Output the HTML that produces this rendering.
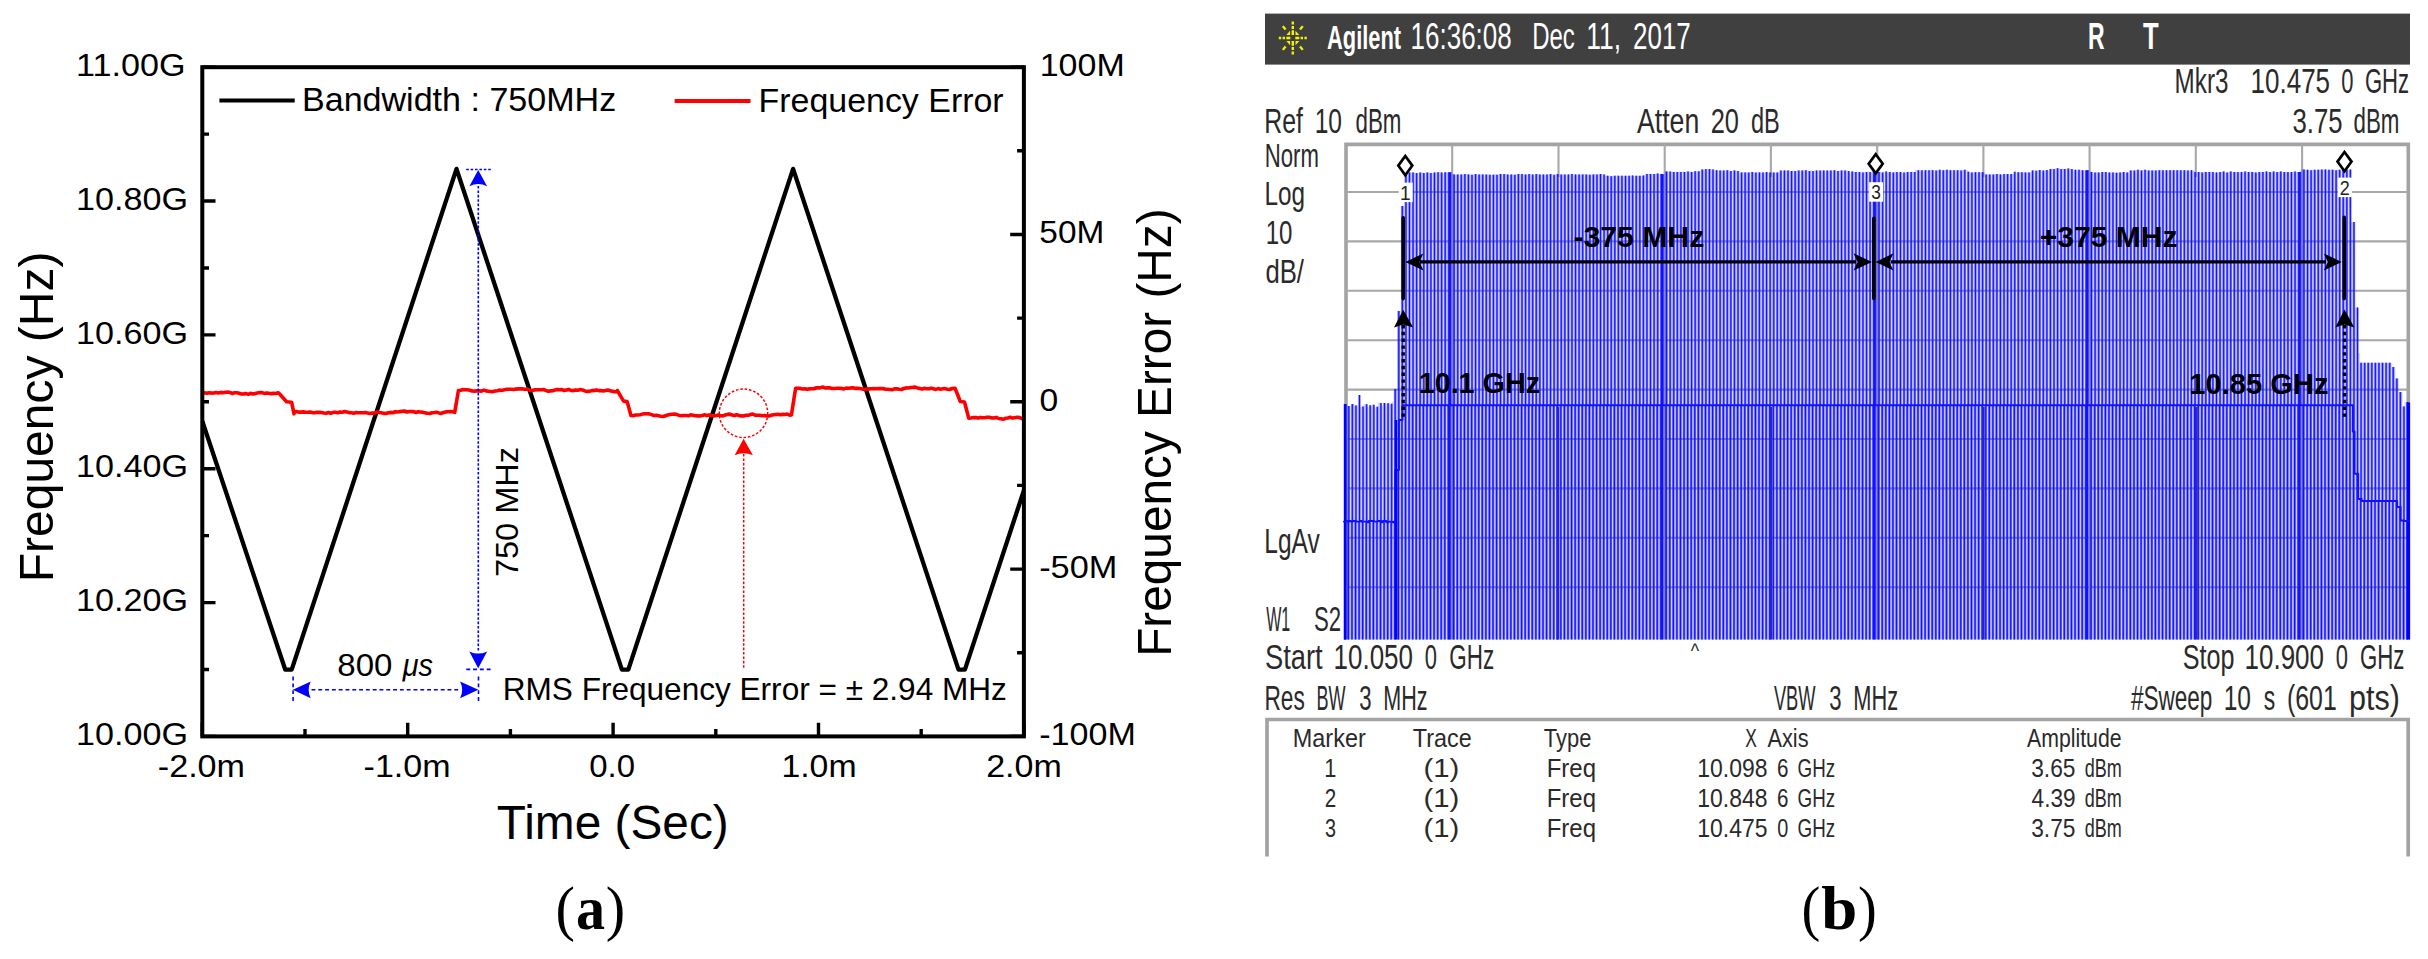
<!DOCTYPE html>
<html lang="en">
<head>
<meta charset="utf-8">
<title>Frequency chirp measurement (a) and spectrum analyzer capture (b)</title>
<style>
html,body{margin:0;padding:0;background:#fff;}
body{width:2428px;height:959px;overflow:hidden;}
svg{display:block;font-family:"Liberation Sans",sans-serif;}
</style>
</head>
<body>
<svg width="2428" height="959" viewBox="0 0 2428 959">
<rect width="2428" height="959" fill="#fff"/>
<g id="panel-a">
<clipPath id="ca"><rect x="202.3" y="67.2" width="821.6" height="669.2"/></clipPath>
<g clip-path="url(#ca)">
<polyline fill="none" stroke="#000" stroke-width="4.3" stroke-linejoin="round" points="202.3,421.1 285.3,669.7 291.7,669.7 456.5,168.9 621.9,669.7 628.3,669.7 793.1,168.9 958.5,669.7 964.9,669.7 1023.9,490.4"/>
<polyline fill="none" stroke="#ff0000" stroke-width="3.6" stroke-linejoin="round" points="202.3,393.2 204.6,392.8 206.9,393.3 209.2,392.7 211.5,393.1 213.8,393.0 216.1,392.5 218.4,392.9 220.7,392.4 223.0,392.7 225.3,392.3 227.6,392.1 229.9,392.5 232.2,393.4 234.5,392.8 236.8,392.7 239.1,393.2 241.4,394.0 243.7,393.9 246.0,393.6 248.3,394.3 250.6,393.3 252.9,393.9 255.2,393.4 257.5,392.9 259.8,392.5 262.1,392.6 264.4,393.4 266.7,392.9 269.0,393.3 271.3,393.6 273.6,393.4 275.9,393.5 278.2,392.8 279.2,393.5 286.6,401.7 291.6,402.2 294.0,413.8 294.0,411.7 296.3,411.5 298.6,412.1 300.9,412.1 303.2,411.9 305.5,412.2 307.8,412.2 310.1,412.0 312.4,412.6 314.7,412.8 317.0,412.3 319.3,412.4 321.6,412.5 323.9,413.0 326.2,413.2 328.5,412.5 330.8,413.3 333.1,412.3 335.4,412.2 337.7,412.7 340.0,412.0 342.3,412.2 344.6,411.5 346.9,412.1 349.2,412.6 351.5,412.7 353.8,413.2 356.1,412.6 358.4,412.8 360.7,412.8 363.0,412.8 365.3,412.6 367.6,413.0 369.9,413.5 372.2,413.0 374.5,413.1 376.8,412.1 379.1,412.5 381.4,412.7 383.7,413.4 386.0,413.5 388.3,412.8 390.6,412.4 392.9,412.7 395.2,411.8 397.5,412.0 399.8,411.6 402.1,411.3 404.4,411.0 406.7,412.0 409.0,411.5 411.3,411.5 413.6,411.6 415.9,412.5 418.2,411.8 420.5,412.0 422.8,412.2 425.1,412.9 427.4,413.2 429.7,413.5 432.0,412.7 434.3,412.5 436.6,412.2 438.9,412.9 441.2,413.4 443.5,412.5 445.8,411.9 448.1,411.7 450.4,411.5 452.7,411.8 454.7,412.4 458.4,390.8 458.4,390.6 460.7,390.2 463.0,389.5 465.3,389.8 467.6,389.8 469.9,390.2 472.2,391.0 474.5,391.1 476.8,390.9 479.1,390.9 481.4,391.1 483.7,390.1 486.0,390.9 488.3,391.2 490.6,391.5 492.9,391.6 495.2,391.0 497.5,390.7 499.8,390.0 502.1,390.4 504.4,389.7 506.7,389.3 509.0,389.3 511.3,389.2 513.6,389.5 515.9,389.1 518.2,388.9 520.5,388.9 522.8,388.9 525.1,389.3 527.4,389.0 529.7,390.2 532.0,390.5 534.3,389.9 536.6,389.7 538.9,389.8 541.2,389.8 543.5,389.5 545.8,390.4 548.1,391.2 550.4,390.9 552.7,390.7 555.0,390.0 557.3,389.5 559.6,389.7 561.9,389.6 564.2,390.5 566.5,389.9 568.8,389.4 571.1,390.5 573.4,390.6 575.7,390.0 578.0,390.2 580.3,389.6 582.6,390.0 584.9,390.9 587.2,391.4 589.5,391.3 591.8,390.6 594.1,390.4 596.4,389.9 598.7,390.6 601.0,390.6 603.3,391.0 605.6,390.5 607.9,390.1 610.2,390.7 612.5,391.4 614.8,391.6 617.1,391.7 617.3,390.5 623.6,401.1 627.1,401.6 630.9,415.3 630.9,415.5 633.2,415.7 635.5,415.0 637.8,415.0 640.1,414.8 642.4,414.1 644.7,413.7 647.0,413.8 649.3,413.9 651.6,414.6 653.9,415.5 656.2,415.2 658.5,415.8 660.8,416.3 663.1,416.5 665.4,415.7 667.7,415.0 670.0,414.6 672.3,414.2 674.6,414.1 676.9,414.6 679.2,415.4 681.5,415.8 683.8,415.5 686.1,415.5 688.4,415.8 690.7,414.8 693.0,415.2 695.3,415.8 697.6,415.9 699.9,416.0 702.2,415.6 704.5,414.8 706.8,415.4 709.1,415.0 711.4,415.5 713.7,416.0 716.0,415.5 718.3,415.1 720.6,415.8 722.9,415.9 725.2,415.0 727.5,414.4 729.8,414.1 732.1,415.1 734.4,415.5 736.7,414.8 739.0,415.4 741.3,416.0 743.6,415.9 745.9,415.3 748.2,415.3 750.5,414.6 752.8,414.0 755.1,415.1 757.4,415.3 759.7,415.2 762.0,415.8 764.3,415.4 766.6,415.9 768.9,416.0 771.2,415.2 773.5,414.7 775.8,414.5 778.1,414.3 780.4,414.7 782.7,414.4 785.0,414.5 787.3,414.1 789.6,415.1 791.4,415.0 795.6,388.2 795.6,388.2 797.9,388.2 800.2,388.4 802.5,389.0 804.8,388.7 807.1,389.2 809.4,388.9 811.7,388.8 814.0,388.7 816.3,387.8 818.6,387.9 820.9,387.6 823.2,387.1 825.5,388.1 827.8,387.7 830.1,387.9 832.4,388.5 834.7,388.5 837.0,388.2 839.3,388.3 841.6,388.4 843.9,388.9 846.2,388.1 848.5,388.3 850.8,387.9 853.1,387.8 855.4,388.4 857.7,388.4 860.0,388.5 862.3,388.9 864.6,389.4 866.9,388.9 869.2,388.9 871.5,388.7 873.8,388.6 876.1,388.8 878.4,388.6 880.7,388.6 883.0,388.5 885.3,389.2 887.6,389.2 889.9,389.5 892.2,389.8 894.5,388.9 896.8,388.8 899.1,389.3 901.4,389.5 903.7,388.5 906.0,387.9 908.3,388.0 910.6,387.5 912.9,387.4 915.2,387.1 917.5,387.9 919.8,388.5 922.1,389.1 924.4,388.3 926.7,388.7 929.0,388.8 931.3,388.1 933.6,388.8 935.9,389.4 938.2,388.6 940.5,389.2 942.8,388.8 945.1,388.6 947.4,389.3 949.7,389.5 952.0,388.5 954.3,388.4 955.1,388.4 960.3,401.5 964.5,402.0 968.7,418.0 968.7,418.2 971.0,418.0 973.3,417.6 975.6,417.5 977.9,418.1 980.2,417.4 982.5,417.8 984.8,417.8 987.1,417.2 989.4,417.3 991.7,417.9 994.0,418.0 996.3,417.4 998.6,418.5 1000.9,418.8 1003.2,419.3 1005.5,418.3 1007.8,417.9 1010.1,417.3 1012.4,418.1 1014.7,417.7 1017.0,417.3 1019.3,417.5 1021.6,418.4 1023.9,418.9 1026.0,418.2"/>
</g>
<rect x="202.3" y="67.2" width="821.6" height="669.2" fill="none" stroke="#000" stroke-width="4"/>
<path d="M202.3 67.2H215.5M202.3 134.1H209.0M202.3 201.0H215.5M202.3 268.0H209.0M202.3 334.9H215.5M202.3 401.8H209.0M202.3 468.7H215.5M202.3 535.6H209.0M202.3 602.6H215.5M202.3 669.5H209.0M202.3 736.4H215.5M1023.9 67.2H1010.2M1023.9 150.8H1017.1M1023.9 234.5H1010.2M1023.9 318.1H1017.1M1023.9 401.8H1010.2M1023.9 485.4H1017.1M1023.9 569.1H1010.2M1023.9 652.8H1017.1M1023.9 736.4H1010.2M202.3 736.4V722.7M305.0 736.4V728.9M407.7 736.4V722.7M510.4 736.4V728.9M613.1 736.4V722.7M715.8 736.4V728.9M818.5 736.4V722.7M921.2 736.4V728.9M1023.9 736.4V722.7" stroke="#000" stroke-width="3.4" fill="none"/>
<text transform="translate(76.00 76.30) scale(1.0675 1)" font-size="32.00">11.00G</text>
<text transform="translate(76.00 210.02) scale(1.0675 1)" font-size="32.00">10.80G</text>
<text transform="translate(76.00 343.74) scale(1.0675 1)" font-size="32.00">10.60G</text>
<text transform="translate(76.00 477.46) scale(1.0675 1)" font-size="32.00">10.40G</text>
<text transform="translate(76.00 611.18) scale(1.0675 1)" font-size="32.00">10.20G</text>
<text transform="translate(76.00 744.90) scale(1.0675 1)" font-size="32.00">10.00G</text>
<text transform="translate(1039.71 76.00) scale(1.0616 1)" font-size="32.00">100M</text>
<text transform="translate(1039.36 243.30) scale(1.0438 1)" font-size="32.00">50M</text>
<text transform="translate(1039.38 410.60) scale(1.0525 1)" font-size="32.00">0</text>
<text transform="translate(1039.18 577.90) scale(1.0717 1)" font-size="32.00">-50M</text>
<text transform="translate(1039.19 745.20) scale(1.0651 1)" font-size="32.00">-100M</text>
<text transform="translate(157.78 776.90) scale(1.0669 1)" font-size="32.00">-2.0m</text>
<text transform="translate(363.59 776.90) scale(1.0643 1)" font-size="32.00">-1.0m</text>
<text transform="translate(589.21 776.90) scale(1.0290 1)" font-size="32.00">0.0</text>
<text transform="translate(781.42 776.90) scale(1.0572 1)" font-size="32.00">1.0m</text>
<text transform="translate(986.19 776.90) scale(1.0635 1)" font-size="32.00">2.0m</text>
<text transform="translate(496.83 838.70) scale(0.9960 1)" font-size="48.00">Time (Sec)</text>
<text transform="translate(52.70 582.24) rotate(-90) scale(0.9896 1)" font-size="48.50">Frequency (Hz)</text>
<text transform="translate(1171.20 656.82) rotate(-90) scale(0.9847 1)" font-size="48.50">Frequency Error (Hz)</text>
<path d="M219.4 100.4H294.7" stroke="#000" stroke-width="4"/>
<path d="M674.6 100.9H750.5" stroke="#ff0000" stroke-width="4"/>
<text transform="translate(302.01 111.20) scale(1.0198 1)" font-size="33.40">Bandwidth : 750MHz</text>
<text transform="translate(758.52 111.50) scale(1.0164 1)" font-size="33.40">Frequency Error</text>
<g stroke="#0000ff" stroke-width="1.6" fill="none">
<path d="M466.2 169.5H491.7M478.3 186V652" stroke-dasharray="2.6 1.8"/>
<path d="M466.3 669.4H491.5M293.1 676.6V701.8M478.5 676.6V701.8M311.5 689.7H459.5" stroke-dasharray="3.9 2.9"/>
</g>
<g fill="#0000ff">
<path d="M478.2 170.0L487.1 186.2Q478.2 182.0 469.4 186.2Z"/>
<path d="M478.2 668.3L487.1 651.4Q478.2 655.8 469.3 651.4Z"/>
<path d="M292.9 689.8L310.7 681.4Q306.6 689.8 310.7 698.3Z"/>
<path d="M478.3 689.8L460.1 681.4Q464.2 689.8 460.1 698.3Z"/>
</g>
<text transform="translate(337.36 676.00) scale(1.0325 1)" font-size="32.00">800</text>
<text transform="translate(402.70 676.00) scale(0.8973 1)" font-size="32.00" font-style="italic">μs</text>
<text transform="translate(518.40 577.07) rotate(-90) scale(1.0288 1)" font-size="31.60">750 MHz</text>
<text transform="translate(502.71 700.40) scale(0.9810 1)" font-size="32.20">RMS Frequency Error = ± 2.94 MHz</text>
<circle cx="743.5" cy="413.3" r="24.2" fill="none" stroke="#ff0000" stroke-width="1.5" stroke-dasharray="2.6 1.8"/>
<path d="M743.7 454V669" stroke="#ff0000" stroke-width="1.5" stroke-dasharray="2.6 1.8" fill="none"/>
<path d="M743.6 438.8L752.9 455.2Q743.6 451.4 734.6 455.2Z" fill="#ff0000"/>
<text transform="translate(555.53 928.70) scale(0.9574 1)" font-size="61.00" font-family='"Liberation Serif", serif'>(</text>
<text transform="translate(575.93 928.70) scale(0.9525 1)" font-size="61.00" font-weight="bold" font-family='"Liberation Serif", serif'>a</text>
<text transform="translate(605.82 928.70) scale(0.9574 1)" font-size="61.00" font-family='"Liberation Serif", serif'>)</text>
</g>
<g id="panel-b">
<rect x="1265" y="13.6" width="1145" height="51" fill="#404040"/>
<path d="M1291.6 30.3H1294.0V34.9H1291.6ZM1291.6 26.0H1294.0V29.0H1291.6ZM1291.6 21.4H1294.0V24.4H1291.6ZM1286.3 36.8H1290.3V39.2H1286.3ZM1282.6 36.8H1285.0V39.2H1282.6ZM1278.8 36.8H1281.2V39.2H1278.8ZM1291.6 41.1H1294.0V45.7H1291.6ZM1291.6 47.0H1294.0V50.0H1291.6ZM1291.6 51.6H1294.0V54.6H1291.6ZM1295.3 36.8H1299.3V39.2H1295.3ZM1300.6 36.8H1303.0V39.2H1300.6ZM1304.4 36.8H1306.8V39.2H1304.4ZM1286.3 35.0L1290.1 35.0L1290.1 30.7ZM1284.7 30.2L1281.9 26.8L1283.7 25.4L1286.5 28.8ZM1286.3 41.0L1290.1 41.0L1290.1 45.3ZM1286.5 47.2L1283.7 50.6L1281.9 49.2L1284.7 45.8ZM1299.3 35.0L1295.5 35.0L1295.5 30.7ZM1299.1 28.8L1301.9 25.4L1303.7 26.8L1300.9 30.2ZM1299.3 41.0L1295.5 41.0L1295.5 45.3ZM1300.9 45.8L1303.7 49.2L1301.9 50.6L1299.1 47.2Z" fill="#f2f200"/>
<text transform="translate(1327.06 49.40) scale(0.6424 1)" font-size="34.00" font-weight="bold" fill="#fff">Agilent</text>
<text transform="translate(1410.62 49.40) scale(0.7116 1)" font-size="36.50" fill="#fff">16:36:08</text>
<text transform="translate(1532.24 49.40) scale(0.6563 1)" font-size="36.50" fill="#fff">Dec</text>
<text transform="translate(1586.18 49.40) scale(0.7251 1)" font-size="36.50" fill="#fff">11,</text>
<text transform="translate(1632.99 49.40) scale(0.7120 1)" font-size="36.50" fill="#fff">2017</text>
<text transform="translate(2088.06 49.40) scale(0.6216 1)" font-size="37.00" font-weight="bold" fill="#fff">R</text>
<text transform="translate(2142.91 49.40) scale(0.6930 1)" font-size="37.00" font-weight="bold" fill="#fff">T</text>
<text transform="translate(2174.61 92.70) scale(0.6924 1)" font-size="35.00" fill="#2a2a2a">Mkr3</text>
<text transform="translate(2250.52 92.70) scale(0.7433 1)" font-size="35.00" fill="#2a2a2a">10.475</text>
<text transform="translate(2341.14 92.70) scale(0.6276 1)" font-size="35.00" fill="#2a2a2a">0</text>
<text transform="translate(2364.89 92.70) scale(0.6316 1)" font-size="35.00" fill="#2a2a2a">GHz</text>
<text transform="translate(2292.52 133.40) scale(0.7349 1)" font-size="35.00" fill="#2a2a2a">3.75</text>
<text transform="translate(2353.56 133.40) scale(0.6379 1)" font-size="35.00" fill="#2a2a2a">dBm</text>
<text transform="translate(1264.26 133.40) scale(0.7106 1)" font-size="35.00" fill="#2a2a2a">Ref</text>
<text transform="translate(1314.63 133.40) scale(0.7021 1)" font-size="35.00" fill="#2a2a2a">10</text>
<text transform="translate(1355.56 133.40) scale(0.6379 1)" font-size="35.00" fill="#2a2a2a">dBm</text>
<text transform="translate(1636.95 133.40) scale(0.7621 1)" font-size="35.00" fill="#2a2a2a">Atten</text>
<text transform="translate(1710.72 133.40) scale(0.7262 1)" font-size="35.00" fill="#2a2a2a">20</text>
<text transform="translate(1751.01 133.40) scale(0.6735 1)" font-size="35.00" fill="#2a2a2a">dB</text>
<text transform="translate(1264.68 166.90) scale(0.6717 1)" font-size="33.00" fill="#2a2a2a">Norm</text>
<text transform="translate(1264.51 204.80) scale(0.7367 1)" font-size="33.00" fill="#2a2a2a">Log</text>
<text transform="translate(1265.67 244.00) scale(0.7294 1)" font-size="33.00" fill="#2a2a2a">10</text>
<text transform="translate(1265.42 282.60) scale(0.7789 1)" font-size="33.00" fill="#2a2a2a">dB/</text>
<text transform="translate(1264.28 553.10) scale(0.7020 1)" font-size="35.00" fill="#2a2a2a">LgAv</text>
<text transform="translate(1266.23 630.50) scale(0.4582 1)" font-size="35.00" fill="#2a2a2a">W1</text>
<text transform="translate(1313.99 630.50) scale(0.6335 1)" font-size="35.00" fill="#2a2a2a">S2</text>
<text transform="translate(1265.06 669.30) scale(0.7798 1)" font-size="35.00" fill="#2a2a2a">Start</text>
<text transform="translate(1333.52 669.30) scale(0.7426 1)" font-size="35.00" fill="#2a2a2a">10.050</text>
<text transform="translate(1424.64 669.30) scale(0.6276 1)" font-size="35.00" fill="#2a2a2a">0</text>
<text transform="translate(1449.37 669.30) scale(0.6421 1)" font-size="35.00" fill="#2a2a2a">GHz</text>
<text transform="translate(2182.86 669.40) scale(0.7180 1)" font-size="35.00" fill="#2a2a2a">Stop</text>
<text transform="translate(2244.52 669.40) scale(0.7426 1)" font-size="35.00" fill="#2a2a2a">10.900</text>
<text transform="translate(2335.64 669.40) scale(0.6276 1)" font-size="35.00" fill="#2a2a2a">0</text>
<text transform="translate(2359.88 669.40) scale(0.6346 1)" font-size="35.00" fill="#2a2a2a">GHz</text>
<text transform="translate(1264.44 710.10) scale(0.6488 1)" font-size="35.00" fill="#2a2a2a">Res</text>
<text transform="translate(1316.52 710.10) scale(0.5151 1)" font-size="35.00" fill="#2a2a2a">BW</text>
<text transform="translate(1359.16 710.10) scale(0.6327 1)" font-size="35.00" fill="#2a2a2a">3</text>
<text transform="translate(1383.23 710.10) scale(0.6165 1)" font-size="35.00" fill="#2a2a2a">MHz</text>
<text transform="translate(1773.92 710.10) scale(0.5223 1)" font-size="35.00" fill="#2a2a2a">VBW</text>
<text transform="translate(1829.16 710.10) scale(0.6327 1)" font-size="35.00" fill="#2a2a2a">3</text>
<text transform="translate(1853.21 710.10) scale(0.6239 1)" font-size="35.00" fill="#2a2a2a">MHz</text>
<text transform="translate(2130.90 710.10) scale(0.6447 1)" font-size="35.00" fill="#2a2a2a">#Sweep</text>
<text transform="translate(2223.63 710.10) scale(0.7021 1)" font-size="35.00" fill="#2a2a2a">10</text>
<text transform="translate(2263.86 710.10) scale(0.6553 1)" font-size="35.00" fill="#2a2a2a">s</text>
<text transform="translate(2286.96 710.10) scale(0.7103 1)" font-size="35.00" fill="#2a2a2a">(601</text>
<text transform="translate(2349.03 710.10) scale(0.8717 1)" font-size="35.00" fill="#2a2a2a">pts)</text>
<text transform="translate(1690.71 657.50) scale(0.8923 1)" font-size="20.00" fill="#2a2a2a">^</text>
<path d="M1346.0 639.5V144.4H2408.3V639.5" fill="none" stroke="#a3a3a3" stroke-width="3.6"/>
<path d="M1452.2 144.4V639.5M1346.0 192.0H2408.3M1558.5 144.4V177.0M1346.0 241.4H2408.3M1664.7 144.4V639.5M1346.0 290.8H2408.3M1770.9 144.4V177.0M1346.0 340.2H2408.3M1877.2 144.4V639.5M1346.0 389.6H2408.3M1983.4 144.4V177.0M1346.0 439.0H2408.3M2089.6 144.4V639.5M1346.0 488.4H2408.3M2195.8 144.4V177.0M1346.0 537.8H2408.3M2302.1 144.4V639.5M1346.0 587.2H2408.3" stroke="#a8a8a8" stroke-width="2.1" fill="none"/>
<polygon points="1344.4,639.5 1343.9,404.0 1345.7,404.0 1345.7,404.7 1347.5,404.7 1347.4,405.9 1349.2,405.9 1349.2,405.8 1351.0,405.8 1351.0,404.1 1352.8,404.1 1352.8,403.8 1354.6,403.8 1354.5,405.5 1356.3,405.5 1356.3,404.8 1358.1,404.8 1358.1,395.0 1359.9,395.0 1359.9,407.1 1361.7,407.1 1361.6,406.5 1363.4,406.5 1363.4,403.7 1365.2,403.7 1365.2,404.3 1367.0,404.3 1367.0,406.9 1368.8,406.9 1368.7,405.2 1370.5,405.2 1370.5,406.3 1372.3,406.3 1372.3,404.8 1374.1,404.8 1374.0,407.5 1375.8,407.5 1375.8,406.8 1377.6,406.8 1377.6,402.4 1379.4,402.4 1379.4,402.9 1381.2,402.9 1381.1,405.2 1382.9,405.2 1382.9,403.1 1384.7,403.1 1384.7,403.5 1386.5,403.5 1386.5,403.2 1388.3,403.2 1388.2,403.3 1390.0,403.3 1390.0,403.7 1391.8,403.7 1391.8,401.5 1393.6,401.5 1393.5,389.0 1395.3,389.0 1395.3,389.0 1397.1,389.0 1397.1,311.0 1398.9,311.0 1398.9,311.0 1400.7,311.0 1400.6,206.0 1402.4,206.0 1402.4,206.0 1404.2,206.0 1404.2,172.6 1406.0,172.6 1406.0,172.2 1407.8,172.2 1407.7,172.6 1409.5,172.6 1409.5,172.6 1411.3,172.6 1411.3,172.6 1413.1,172.6 1413.1,172.6 1414.9,172.6 1414.8,173.0 1416.6,173.0 1416.6,173.0 1418.4,173.0 1418.4,172.6 1420.2,172.6 1420.1,172.6 1421.9,172.6 1421.9,172.6 1423.7,172.6 1423.7,173.0 1425.5,173.0 1425.5,172.6 1427.3,172.6 1427.2,172.6 1429.0,172.6 1429.0,172.6 1430.8,172.6 1430.8,173.0 1432.6,173.0 1432.6,173.0 1434.4,173.0 1434.3,172.6 1436.1,172.6 1436.1,172.6 1437.9,172.6 1437.9,172.2 1439.7,172.2 1439.7,172.2 1441.5,172.2 1441.4,172.6 1443.2,172.6 1443.2,173.0 1445.0,173.0 1445.0,172.2 1446.8,172.2 1446.7,172.6 1448.5,172.6 1448.5,172.2 1450.3,172.2 1450.3,172.6 1452.1,172.6 1452.1,174.0 1453.9,174.0 1453.8,174.4 1455.6,174.4 1455.6,174.4 1457.4,174.4 1457.4,174.4 1459.2,174.4 1459.2,174.4 1461.0,174.4 1460.9,174.4 1462.7,174.4 1462.7,174.4 1464.5,174.4 1464.5,174.0 1466.3,174.0 1466.2,174.0 1468.0,174.0 1468.0,174.4 1469.8,174.4 1469.8,174.4 1471.6,174.4 1471.6,174.8 1473.4,174.8 1473.3,174.4 1475.1,174.4 1475.1,174.0 1476.9,174.0 1476.9,174.4 1478.7,174.4 1478.7,174.4 1480.5,174.4 1480.4,174.4 1482.2,174.4 1482.2,174.4 1484.0,174.4 1484.0,174.4 1485.8,174.4 1485.8,174.4 1487.6,174.4 1487.5,174.4 1489.3,174.4 1489.3,174.8 1491.1,174.8 1491.1,174.8 1492.9,174.8 1492.8,174.8 1494.6,174.8 1494.6,174.0 1496.4,174.0 1496.4,174.8 1498.2,174.8 1498.2,174.0 1500.0,174.0 1499.9,174.0 1501.7,174.0 1501.7,174.4 1503.5,174.4 1503.5,174.0 1505.3,174.0 1505.3,174.0 1507.1,174.0 1507.0,174.4 1508.8,174.4 1508.8,174.8 1510.6,174.8 1510.6,174.4 1512.4,174.4 1512.4,174.4 1514.2,174.4 1514.1,174.8 1515.9,174.8 1515.9,174.4 1517.7,174.4 1517.7,174.0 1519.5,174.0 1519.4,174.4 1521.2,174.4 1521.2,174.0 1523.0,174.0 1523.0,174.4 1524.8,174.4 1524.8,174.4 1526.6,174.4 1526.5,174.8 1528.3,174.8 1528.3,174.0 1530.1,174.0 1530.1,174.4 1531.9,174.4 1531.9,174.4 1533.7,174.4 1533.6,174.8 1535.4,174.8 1535.4,174.0 1537.2,174.0 1537.2,174.0 1539.0,174.0 1538.9,174.4 1540.7,174.4 1540.7,174.4 1542.5,174.4 1542.5,174.4 1544.3,174.4 1544.3,174.8 1546.1,174.8 1546.0,174.4 1547.8,174.4 1547.8,174.4 1549.6,174.4 1549.6,174.0 1551.4,174.0 1551.4,174.4 1553.2,174.4 1553.1,174.8 1554.9,174.8 1554.9,174.4 1556.7,174.4 1556.7,174.0 1558.5,174.0 1558.5,174.4 1560.3,174.4 1560.2,174.4 1562.0,174.4 1562.0,174.4 1563.8,174.4 1563.8,174.4 1565.6,174.4 1565.5,174.8 1567.3,174.8 1567.3,174.4 1569.1,174.4 1569.1,174.0 1570.9,174.0 1570.9,174.0 1572.7,174.0 1572.6,174.4 1574.4,174.4 1574.4,174.4 1576.2,174.4 1576.2,174.4 1578.0,174.4 1578.0,174.4 1579.8,174.4 1579.7,174.4 1581.5,174.4 1581.5,174.4 1583.3,174.4 1583.3,174.0 1585.1,174.0 1585.1,174.4 1586.9,174.4 1586.8,174.4 1588.6,174.4 1588.6,174.8 1590.4,174.8 1590.4,174.4 1592.2,174.4 1592.1,174.4 1593.9,174.4 1593.9,174.0 1595.7,174.0 1595.7,174.4 1597.5,174.4 1597.5,174.4 1599.3,174.4 1599.2,174.0 1601.0,174.0 1601.0,174.4 1602.8,174.4 1602.8,174.4 1604.6,174.4 1604.6,175.8 1606.4,175.8 1606.3,175.8 1608.1,175.8 1608.1,175.8 1609.9,175.8 1609.9,176.2 1611.7,176.2 1611.6,175.8 1613.4,175.8 1613.4,175.8 1615.2,175.8 1615.2,175.4 1617.0,175.4 1617.0,175.8 1618.8,175.8 1618.7,175.8 1620.5,175.8 1620.5,175.8 1622.3,175.8 1622.3,176.2 1624.1,176.2 1624.1,175.8 1625.9,175.8 1625.8,175.8 1627.6,175.8 1627.6,175.8 1629.4,175.8 1629.4,175.8 1631.2,175.8 1631.2,175.4 1633.0,175.4 1632.9,176.2 1634.7,176.2 1634.7,175.8 1636.5,175.8 1636.5,175.8 1638.3,175.8 1638.2,175.8 1640.0,175.8 1640.0,175.8 1641.8,175.8 1641.8,175.4 1643.6,175.4 1643.6,175.8 1645.4,175.8 1645.3,174.0 1647.1,174.0 1647.1,173.6 1648.9,173.6 1648.9,174.0 1650.7,174.0 1650.7,174.0 1652.5,174.0 1652.4,174.0 1654.2,174.0 1654.2,174.0 1656.0,174.0 1656.0,173.6 1657.8,173.6 1657.8,174.0 1659.6,174.0 1659.5,173.6 1661.3,173.6 1661.3,174.0 1663.1,174.0 1663.1,174.4 1664.9,174.4 1664.8,171.6 1666.6,171.6 1666.6,171.2 1668.4,171.2 1668.4,171.6 1670.2,171.6 1670.2,172.0 1672.0,172.0 1671.9,171.6 1673.7,171.6 1673.7,172.0 1675.5,172.0 1675.5,171.6 1677.3,171.6 1677.3,172.0 1679.1,172.0 1679.0,171.2 1680.8,171.2 1680.8,172.0 1682.6,172.0 1682.6,171.6 1684.4,171.6 1684.3,172.0 1686.1,172.0 1686.1,171.6 1687.9,171.6 1687.9,171.6 1689.7,171.6 1689.7,171.6 1691.5,171.6 1691.4,172.0 1693.2,172.0 1693.2,171.2 1695.0,171.2 1695.0,171.2 1696.8,171.2 1696.8,172.0 1698.6,172.0 1698.5,171.2 1700.3,171.2 1700.3,169.4 1702.1,169.4 1702.1,169.4 1703.9,169.4 1703.9,169.8 1705.7,169.8 1705.6,169.0 1707.4,169.0 1707.4,169.4 1709.2,169.4 1709.2,169.0 1711.0,169.0 1710.9,169.4 1712.7,169.4 1712.7,169.4 1714.5,169.4 1714.5,170.6 1716.3,170.6 1716.3,170.2 1718.1,170.2 1718.0,170.6 1719.8,170.6 1719.8,170.6 1721.6,170.6 1721.6,170.6 1723.4,170.6 1723.4,170.6 1725.2,170.6 1725.1,170.6 1726.9,170.6 1726.9,170.2 1728.7,170.2 1728.7,170.6 1730.5,170.6 1730.5,171.0 1732.3,171.0 1732.2,170.2 1734.0,170.2 1734.0,170.6 1735.8,170.6 1735.8,170.6 1737.6,170.6 1737.5,171.0 1739.3,171.0 1739.3,172.4 1741.1,172.4 1741.1,172.4 1742.9,172.4 1742.9,172.0 1744.7,172.0 1744.6,172.4 1746.4,172.4 1746.4,172.4 1748.2,172.4 1748.2,172.4 1750.0,172.4 1750.0,172.0 1751.8,172.0 1751.7,172.0 1753.5,172.0 1753.5,172.8 1755.3,172.8 1755.3,172.4 1757.1,172.4 1757.0,172.0 1758.8,172.0 1758.8,172.4 1760.6,172.4 1760.6,172.4 1762.4,172.4 1762.4,172.4 1764.2,172.4 1764.1,172.4 1765.9,172.4 1765.9,172.0 1767.7,172.0 1767.7,172.8 1769.5,172.8 1769.5,172.4 1771.3,172.4 1771.2,172.4 1773.0,172.4 1773.0,172.4 1774.8,172.4 1774.8,172.4 1776.6,172.4 1776.6,172.4 1778.4,172.4 1778.3,172.0 1780.1,172.0 1780.1,170.6 1781.9,170.6 1781.9,170.6 1783.7,170.6 1783.6,170.6 1785.4,170.6 1785.4,170.6 1787.2,170.6 1787.2,170.6 1789.0,170.6 1789.0,170.6 1790.8,170.6 1790.7,171.0 1792.5,171.0 1792.5,170.2 1794.3,170.2 1794.3,171.0 1796.1,171.0 1796.1,170.6 1797.9,170.6 1797.8,170.6 1799.6,170.6 1799.6,170.6 1801.4,170.6 1801.4,170.6 1803.2,170.6 1803.2,170.2 1805.0,170.2 1804.9,170.2 1806.7,170.2 1806.7,170.2 1808.5,170.2 1808.5,171.0 1810.3,171.0 1810.2,170.6 1812.0,170.6 1812.0,171.0 1813.8,171.0 1813.8,170.6 1815.6,170.6 1815.6,170.6 1817.4,170.6 1817.3,170.6 1819.1,170.6 1819.1,170.6 1820.9,170.6 1820.9,170.6 1822.7,170.6 1822.7,170.6 1824.5,170.6 1824.4,170.6 1826.2,170.6 1826.2,170.6 1828.0,170.6 1828.0,171.0 1829.8,171.0 1829.7,170.6 1831.5,170.6 1831.5,170.6 1833.3,170.6 1833.3,170.2 1835.1,170.2 1835.1,170.2 1836.9,170.2 1836.8,171.0 1838.6,171.0 1838.6,170.6 1840.4,170.6 1840.4,170.6 1842.2,170.6 1842.2,170.6 1844.0,170.6 1843.9,170.6 1845.7,170.6 1845.7,170.6 1847.5,170.6 1847.5,171.0 1849.3,171.0 1849.3,172.4 1851.1,172.4 1851.0,171.6 1852.8,171.6 1852.8,172.0 1854.6,172.0 1854.6,172.0 1856.4,172.0 1856.3,172.0 1858.1,172.0 1858.1,172.0 1859.9,172.0 1859.9,172.0 1861.7,172.0 1861.7,172.4 1863.5,172.4 1863.4,172.0 1865.2,172.0 1865.2,172.0 1867.0,172.0 1867.0,171.6 1868.8,171.6 1868.8,172.0 1870.6,172.0 1870.5,172.4 1872.3,172.4 1872.3,172.0 1874.1,172.0 1874.1,171.6 1875.9,171.6 1875.8,172.0 1877.7,172.0 1877.6,172.0 1879.4,172.0 1879.4,172.0 1881.2,172.0 1881.2,172.4 1883.0,172.4 1882.9,171.6 1884.7,171.6 1884.7,171.6 1886.5,171.6 1886.5,172.4 1888.3,172.4 1888.3,172.0 1890.1,172.0 1890.0,171.6 1891.8,171.6 1891.8,172.4 1893.6,172.4 1893.6,172.0 1895.4,172.0 1895.4,172.0 1897.2,172.0 1897.1,172.4 1898.9,172.4 1898.9,172.0 1900.7,172.0 1900.7,172.4 1902.5,172.4 1902.4,172.4 1904.2,172.4 1904.2,172.4 1906.0,172.4 1906.0,172.0 1907.8,172.0 1907.8,172.0 1909.6,172.0 1909.5,172.0 1911.3,172.0 1911.3,171.6 1913.1,171.6 1913.1,172.0 1914.9,172.0 1914.9,169.8 1916.7,169.8 1916.6,170.2 1918.4,170.2 1918.4,170.6 1920.2,170.6 1920.2,170.2 1922.0,170.2 1922.0,170.6 1923.8,170.6 1923.7,170.2 1925.5,170.2 1925.5,170.2 1927.3,170.2 1927.3,170.2 1929.1,170.2 1929.0,170.2 1930.8,170.2 1930.8,169.8 1932.6,169.8 1932.6,170.2 1934.4,170.2 1934.4,170.2 1936.2,170.2 1936.1,170.6 1937.9,170.6 1937.9,170.2 1939.7,170.2 1939.7,169.8 1941.5,169.8 1941.5,170.6 1943.3,170.6 1943.2,170.2 1945.0,170.2 1945.0,170.2 1946.8,170.2 1946.8,169.8 1948.6,169.8 1948.5,169.8 1950.3,169.8 1950.3,170.2 1952.1,170.2 1952.1,169.8 1953.9,169.8 1953.9,170.2 1955.7,170.2 1955.6,170.6 1957.4,170.6 1957.4,170.2 1959.2,170.2 1959.2,170.2 1961.0,170.2 1961.0,170.6 1962.8,170.6 1962.7,170.2 1964.5,170.2 1964.5,169.8 1966.3,169.8 1966.3,170.2 1968.1,170.2 1968.1,171.8 1969.9,171.8 1969.8,172.2 1971.6,172.2 1971.6,172.6 1973.4,172.6 1973.4,172.2 1975.2,172.2 1975.1,172.2 1976.9,172.2 1976.9,172.2 1978.7,172.2 1978.7,172.2 1980.5,172.2 1980.5,172.2 1982.3,172.2 1982.2,172.2 1984.0,172.2 1984.0,172.6 1985.8,172.6 1985.8,174.4 1987.6,174.4 1987.6,174.0 1989.4,174.0 1989.3,174.4 1991.1,174.4 1991.1,174.4 1992.9,174.4 1992.9,174.4 1994.7,174.4 1994.7,174.0 1996.5,174.0 1996.4,174.0 1998.2,174.0 1998.2,174.0 2000.0,174.0 2000.0,174.4 2001.8,174.4 2001.7,174.4 2003.5,174.4 2003.5,174.0 2005.3,174.0 2005.3,174.4 2007.1,174.4 2007.1,174.0 2008.9,174.0 2008.8,174.4 2010.6,174.4 2010.6,174.0 2012.4,174.0 2012.4,174.4 2014.2,174.4 2014.2,171.8 2016.0,171.8 2015.9,172.2 2017.7,172.2 2017.7,172.2 2019.5,172.2 2019.5,172.2 2021.3,172.2 2021.2,172.2 2023.0,172.2 2023.0,172.2 2024.8,172.2 2024.8,172.6 2026.6,172.6 2026.6,171.8 2028.4,171.8 2028.3,172.6 2030.1,172.6 2030.1,172.2 2031.9,172.2 2031.9,170.4 2033.7,170.4 2033.7,170.0 2035.5,170.0 2035.4,170.8 2037.2,170.8 2037.2,170.4 2039.0,170.4 2039.0,170.0 2040.8,170.0 2040.8,170.8 2042.6,170.8 2042.5,170.4 2044.3,170.4 2044.3,170.8 2046.1,170.8 2046.1,170.0 2047.9,170.0 2047.8,170.4 2049.6,170.4 2049.6,169.0 2051.4,169.0 2051.4,168.6 2053.2,168.6 2053.2,169.0 2055.0,169.0 2054.9,168.2 2056.7,168.2 2056.7,168.2 2058.5,168.2 2058.5,168.2 2060.3,168.2 2060.3,169.0 2062.1,169.0 2062.0,168.6 2063.8,168.6 2063.8,169.0 2065.6,169.0 2065.6,168.6 2067.4,168.6 2067.4,168.6 2069.2,168.6 2069.1,168.6 2070.9,168.6 2070.9,169.0 2072.7,169.0 2072.7,170.6 2074.5,170.6 2074.4,169.8 2076.2,169.8 2076.2,170.6 2078.0,170.6 2078.0,169.8 2079.8,169.8 2079.8,170.2 2081.6,170.2 2081.5,170.2 2083.3,170.2 2083.3,170.2 2085.1,170.2 2085.1,170.2 2086.9,170.2 2086.9,170.2 2088.7,170.2 2088.6,169.8 2090.4,169.8 2090.4,172.0 2092.2,172.0 2092.2,172.4 2094.0,172.4 2093.9,172.4 2095.7,172.4 2095.7,172.0 2097.5,172.0 2097.5,172.4 2099.3,172.4 2099.3,172.8 2101.1,172.8 2101.0,172.0 2102.8,172.0 2102.8,172.0 2104.6,172.0 2104.6,172.0 2106.4,172.0 2106.4,172.4 2108.2,172.4 2108.1,172.4 2109.9,172.4 2109.9,172.4 2111.7,172.4 2111.7,172.4 2113.5,172.4 2113.5,172.4 2115.3,172.4 2115.2,172.8 2117.0,172.8 2117.0,172.8 2118.8,172.8 2118.8,172.4 2120.6,172.4 2120.5,172.4 2122.3,172.4 2122.3,172.0 2124.1,172.0 2124.1,172.4 2125.9,172.4 2125.9,172.4 2127.7,172.4 2127.6,172.4 2129.4,172.4 2129.4,170.6 2131.2,170.6 2131.2,170.2 2133.0,170.2 2133.0,170.6 2134.8,170.6 2134.7,170.6 2136.5,170.6 2136.5,169.8 2138.3,169.8 2138.3,170.2 2140.1,170.2 2140.1,170.6 2141.9,170.6 2141.8,169.8 2143.6,169.8 2143.6,169.8 2145.4,169.8 2145.4,170.2 2147.2,170.2 2147.1,170.6 2148.9,170.6 2148.9,170.2 2150.7,170.2 2150.7,170.6 2152.5,170.6 2152.5,170.2 2154.3,170.2 2154.2,170.6 2156.0,170.6 2156.0,170.2 2157.8,170.2 2157.8,170.2 2159.6,170.2 2159.6,170.2 2161.4,170.2 2161.3,170.2 2163.1,170.2 2163.1,170.2 2164.9,170.2 2164.9,170.2 2166.7,170.2 2166.6,170.2 2168.4,170.2 2168.4,170.2 2170.2,170.2 2170.2,170.2 2172.0,170.2 2172.0,170.2 2173.8,170.2 2173.7,169.8 2175.5,169.8 2175.5,170.2 2177.3,170.2 2177.3,170.2 2179.1,170.2 2179.1,170.2 2180.9,170.2 2180.8,170.2 2182.6,170.2 2182.6,170.2 2184.4,170.2 2184.4,170.2 2186.2,170.2 2186.2,170.6 2188.0,170.6 2187.9,170.2 2189.7,170.2 2189.7,170.2 2191.5,170.2 2191.5,170.2 2193.3,170.2 2193.2,170.2 2195.0,170.2 2195.0,172.0 2196.8,172.0 2196.8,172.0 2198.6,172.0 2198.6,172.0 2200.4,172.0 2200.3,172.0 2202.1,172.0 2202.1,172.4 2203.9,172.4 2203.9,171.6 2205.7,171.6 2205.7,172.0 2207.5,172.0 2207.4,172.0 2209.2,172.0 2209.2,172.0 2211.0,172.0 2211.0,172.0 2212.8,172.0 2212.8,172.0 2214.6,172.0 2214.5,172.4 2216.3,172.4 2216.3,172.4 2218.1,172.4 2218.1,172.4 2219.9,172.4 2219.8,172.0 2221.6,172.0 2221.6,172.0 2223.4,172.0 2223.4,171.6 2225.2,171.6 2225.2,172.4 2227.0,172.4 2226.9,172.4 2228.7,172.4 2228.7,172.0 2230.5,172.0 2230.5,171.6 2232.3,171.6 2232.3,172.0 2234.1,172.0 2234.0,172.0 2235.8,172.0 2235.8,172.0 2237.6,172.0 2237.6,172.0 2239.4,172.0 2239.3,172.4 2241.1,172.4 2241.1,172.0 2242.9,172.0 2242.9,172.4 2244.7,172.4 2244.7,171.6 2246.5,171.6 2246.4,172.0 2248.2,172.0 2248.2,172.0 2250.0,172.0 2250.0,171.6 2251.8,171.6 2251.8,172.0 2253.6,172.0 2253.5,172.0 2255.3,172.0 2255.3,172.4 2257.1,172.4 2257.1,172.0 2258.9,172.0 2258.9,172.0 2260.7,172.0 2260.6,172.0 2262.4,172.0 2262.4,172.0 2264.2,172.0 2264.2,171.6 2266.0,171.6 2265.9,171.6 2267.7,171.6 2267.7,171.6 2269.5,171.6 2269.5,172.0 2271.3,172.0 2271.3,172.4 2273.1,172.4 2273.0,171.6 2274.8,171.6 2274.8,172.0 2276.6,172.0 2276.6,172.0 2278.4,172.0 2278.4,172.0 2280.2,172.0 2280.1,171.6 2281.9,171.6 2281.9,172.0 2283.7,172.0 2283.7,172.0 2285.5,172.0 2285.5,172.0 2287.3,172.0 2287.2,172.0 2289.0,172.0 2289.0,172.4 2290.8,172.4 2290.8,172.0 2292.6,172.0 2292.5,172.0 2294.3,172.0 2294.3,171.6 2296.1,171.6 2296.1,172.0 2297.9,172.0 2297.9,172.0 2299.7,172.0 2299.6,169.4 2301.4,169.4 2301.4,170.2 2303.2,170.2 2303.2,169.4 2305.0,169.4 2305.0,169.8 2306.8,169.8 2306.7,169.8 2308.5,169.8 2308.5,170.2 2310.3,170.2 2310.3,170.2 2312.1,170.2 2312.0,169.8 2313.8,169.8 2313.8,169.8 2315.6,169.8 2315.6,169.8 2317.4,169.8 2317.4,169.8 2319.2,169.8 2319.1,169.8 2320.9,169.8 2320.9,169.4 2322.7,169.4 2322.7,169.4 2324.5,169.4 2324.5,169.4 2326.3,169.4 2326.2,170.2 2328.0,170.2 2328.0,169.8 2329.8,169.8 2329.8,169.8 2331.6,169.8 2331.6,169.8 2333.4,169.8 2333.3,169.8 2335.1,169.8 2335.1,170.2 2336.9,170.2 2336.9,169.8 2338.7,169.8 2338.6,169.8 2340.4,169.8 2340.4,169.8 2342.2,169.8 2342.2,170.2 2344.0,170.2 2344.0,169.4 2345.8,169.4 2345.7,169.8 2347.5,169.8 2347.5,169.8 2349.3,169.8 2349.3,169.4 2351.1,169.4 2351.1,222.0 2352.9,222.0 2352.8,222.0 2354.6,222.0 2354.6,307.5 2356.4,307.5 2356.4,307.5 2358.2,307.5 2358.2,353.0 2360.0,353.0 2359.9,362.8 2361.7,362.8 2361.7,362.8 2363.5,362.8 2363.5,362.8 2365.3,362.8 2365.2,362.8 2367.0,362.8 2367.0,362.8 2368.8,362.8 2368.8,362.8 2370.6,362.8 2370.6,362.8 2372.4,362.8 2372.3,362.8 2374.1,362.8 2374.1,362.8 2375.9,362.8 2375.9,362.8 2377.7,362.8 2377.7,362.8 2379.5,362.8 2379.4,362.8 2381.2,362.8 2381.2,362.8 2383.0,362.8 2383.0,362.8 2384.8,362.8 2384.7,362.8 2386.5,362.8 2386.5,362.8 2388.3,362.8 2388.3,362.8 2390.1,362.8 2390.1,362.8 2391.9,362.8 2391.8,367.0 2393.6,367.0 2393.6,367.0 2395.4,367.0 2395.4,378.5 2397.2,378.5 2397.2,378.5 2399.0,378.5 2398.9,392.0 2400.7,392.0 2400.7,392.0 2402.5,392.0 2402.5,406.5 2404.3,406.5 2404.3,402.0 2406.1,402.0 2406.0,402.0 2407.8,402.0 2407.8,402.0 2409.6,402.0 2409.5,639.5" fill="#0000ff" fill-opacity="0.14"/>
<path d="M1344.01 404.0H1346.44V521.6H1344.01ZM1347.59 405.9H1350.01V521.6H1347.59ZM1351.16 404.1H1353.58V521.6H1351.16ZM1354.73 405.5H1357.15V521.0H1354.73ZM1358.30 395.0H1360.72V521.6H1358.30ZM1361.87 406.5H1364.29V521.6H1361.87ZM1365.44 404.3H1367.86V521.6H1365.44ZM1369.01 405.2H1371.43V521.0H1369.01ZM1372.58 404.8H1375.00V521.0H1372.58ZM1376.15 406.8H1378.57V521.6H1376.15ZM1379.72 402.9H1382.14V521.0H1379.72ZM1383.29 403.1H1385.71V521.0H1383.29ZM1386.86 403.2H1389.28V522.4H1386.86ZM1390.43 403.7H1392.85V521.6H1390.43ZM1394.00 389.0H1396.42V521.6H1394.00ZM1397.57 311.0H1399.99V470.0H1397.57ZM1401.14 206.0H1403.56V420.0H1401.14ZM1404.71 172.6H1407.13V405.3H1404.71ZM1408.28 172.6H1410.70V405.3H1408.28ZM1411.85 172.6H1414.27V405.3H1411.85ZM1415.42 173.0H1417.84V405.3H1415.42ZM1418.99 172.6H1421.41V405.3H1418.99ZM1422.56 173.0H1424.98V405.3H1422.56ZM1426.13 172.6H1428.55V405.3H1426.13ZM1429.70 173.0H1432.12V405.3H1429.70ZM1433.27 172.6H1435.69V405.3H1433.27ZM1436.84 172.2H1439.26V405.3H1436.84ZM1440.41 172.6H1442.83V405.3H1440.41ZM1443.98 172.2H1446.40V405.3H1443.98ZM1447.56 172.2H1451.65V405.3H1447.56ZM1452.81 174.4H1455.36V405.3H1452.81ZM1456.51 174.4H1458.93V405.3H1456.51ZM1460.08 174.4H1462.50V405.3H1460.08ZM1463.65 174.0H1466.07V405.3H1463.65ZM1467.22 174.4H1469.64V405.3H1467.22ZM1470.79 174.8H1473.21V405.3H1470.79ZM1474.36 174.0H1476.78V405.3H1474.36ZM1477.93 174.4H1480.35V405.3H1477.93ZM1481.50 174.4H1483.92V405.3H1481.50ZM1485.07 174.4H1487.49V405.3H1485.07ZM1488.64 174.8H1491.06V405.3H1488.64ZM1492.21 174.8H1494.63V405.3H1492.21ZM1495.78 174.8H1498.20V405.3H1495.78ZM1499.35 174.0H1501.77V405.3H1499.35ZM1502.92 174.0H1505.34V405.3H1502.92ZM1506.49 174.4H1508.91V405.3H1506.49ZM1510.06 174.4H1512.48V405.3H1510.06ZM1513.63 174.8H1516.05V405.3H1513.63ZM1517.20 174.0H1519.62V405.3H1517.20ZM1520.77 174.0H1523.19V405.3H1520.77ZM1524.34 174.4H1526.76V405.3H1524.34ZM1527.91 174.0H1530.33V405.3H1527.91ZM1531.48 174.4H1533.90V405.3H1531.48ZM1535.05 174.0H1537.47V405.3H1535.05ZM1538.62 174.4H1541.04V405.3H1538.62ZM1542.19 174.4H1544.61V405.3H1542.19ZM1545.76 174.4H1548.18V405.3H1545.76ZM1549.33 174.0H1551.75V405.3H1549.33ZM1552.90 174.8H1555.32V405.3H1552.90ZM1556.47 174.0H1558.90V405.3H1556.47ZM1560.05 174.4H1562.47V405.3H1560.05ZM1563.62 174.4H1566.04V405.3H1563.62ZM1567.19 174.4H1569.61V405.3H1567.19ZM1570.76 174.0H1573.18V405.3H1570.76ZM1574.33 174.4H1576.75V405.3H1574.33ZM1577.90 174.4H1580.32V405.3H1577.90ZM1581.47 174.4H1583.89V405.3H1581.47ZM1585.04 174.4H1587.46V405.3H1585.04ZM1588.61 174.8H1591.03V405.3H1588.61ZM1592.18 174.4H1594.60V405.3H1592.18ZM1595.75 174.4H1598.17V405.3H1595.75ZM1599.32 174.0H1601.74V405.3H1599.32ZM1602.89 174.4H1605.31V405.3H1602.89ZM1606.46 175.8H1608.88V405.3H1606.46ZM1610.03 176.2H1612.45V405.3H1610.03ZM1613.60 175.8H1616.02V405.3H1613.60ZM1617.17 175.8H1619.59V405.3H1617.17ZM1620.74 175.8H1623.16V405.3H1620.74ZM1624.31 175.8H1626.73V405.3H1624.31ZM1627.88 175.8H1630.30V405.3H1627.88ZM1631.45 175.4H1633.87V405.3H1631.45ZM1635.02 175.8H1637.44V405.3H1635.02ZM1638.59 175.8H1641.01V405.3H1638.59ZM1642.16 175.4H1644.58V405.3H1642.16ZM1645.73 174.0H1648.15V405.3H1645.73ZM1649.30 174.0H1651.72V405.3H1649.30ZM1652.87 174.0H1655.29V405.3H1652.87ZM1656.44 173.6H1658.87V405.3H1656.44ZM1660.02 174.0H1664.12V405.3H1660.02ZM1665.27 171.6H1667.82V405.3H1665.27ZM1668.97 171.6H1671.39V405.3H1668.97ZM1672.54 172.0H1674.96V405.3H1672.54ZM1676.11 172.0H1678.53V405.3H1676.11ZM1679.68 172.0H1682.10V405.3H1679.68ZM1683.25 172.0H1685.67V405.3H1683.25ZM1686.82 171.6H1689.24V405.3H1686.82ZM1690.39 172.0H1692.81V405.3H1690.39ZM1693.96 171.2H1696.38V405.3H1693.96ZM1697.53 171.2H1699.95V405.3H1697.53ZM1701.10 169.4H1703.52V405.3H1701.10ZM1704.67 169.0H1707.09V405.3H1704.67ZM1708.24 169.0H1710.66V405.3H1708.24ZM1711.81 169.4H1714.23V405.3H1711.81ZM1715.38 170.2H1717.80V405.3H1715.38ZM1718.95 170.6H1721.37V405.3H1718.95ZM1722.52 170.6H1724.94V405.3H1722.52ZM1726.09 170.2H1728.51V405.3H1726.09ZM1729.66 171.0H1732.08V405.3H1729.66ZM1733.23 170.6H1735.65V405.3H1733.23ZM1736.80 171.0H1739.22V405.3H1736.80ZM1740.37 172.4H1742.79V405.3H1740.37ZM1743.94 172.4H1746.36V405.3H1743.94ZM1747.51 172.4H1749.93V405.3H1747.51ZM1751.08 172.0H1753.50V405.3H1751.08ZM1754.65 172.4H1757.07V405.3H1754.65ZM1758.22 172.4H1760.64V405.3H1758.22ZM1761.79 172.4H1764.21V405.3H1761.79ZM1765.36 172.0H1767.78V405.3H1765.36ZM1768.93 172.4H1771.36V405.3H1768.93ZM1772.51 172.4H1774.93V405.3H1772.51ZM1776.08 172.4H1778.50V405.3H1776.08ZM1779.65 170.6H1782.07V405.3H1779.65ZM1783.22 170.6H1785.64V405.3H1783.22ZM1786.79 170.6H1789.21V405.3H1786.79ZM1790.36 171.0H1792.78V405.3H1790.36ZM1793.93 171.0H1796.35V405.3H1793.93ZM1797.50 170.6H1799.92V405.3H1797.50ZM1801.07 170.6H1803.49V405.3H1801.07ZM1804.64 170.2H1807.06V405.3H1804.64ZM1808.21 171.0H1810.63V405.3H1808.21ZM1811.78 171.0H1814.20V405.3H1811.78ZM1815.35 170.6H1817.77V405.3H1815.35ZM1818.92 170.6H1821.34V405.3H1818.92ZM1822.49 170.6H1824.91V405.3H1822.49ZM1826.06 170.6H1828.48V405.3H1826.06ZM1829.63 170.6H1832.05V405.3H1829.63ZM1833.20 170.2H1835.62V405.3H1833.20ZM1836.77 171.0H1839.19V405.3H1836.77ZM1840.34 170.6H1842.76V405.3H1840.34ZM1843.91 170.6H1846.33V405.3H1843.91ZM1847.48 171.0H1849.90V405.3H1847.48ZM1851.05 171.6H1853.47V405.3H1851.05ZM1854.62 172.0H1857.04V405.3H1854.62ZM1858.19 172.0H1860.61V405.3H1858.19ZM1861.76 172.4H1864.18V405.3H1861.76ZM1865.33 172.0H1867.75V405.3H1865.33ZM1868.90 172.0H1871.33V405.3H1868.90ZM1872.48 171.6H1876.58V405.3H1872.48ZM1877.73 172.0H1880.28V405.3H1877.73ZM1881.43 172.4H1883.85V405.3H1881.43ZM1885.00 171.6H1887.42V405.3H1885.00ZM1888.57 172.0H1890.99V405.3H1888.57ZM1892.14 172.4H1894.56V405.3H1892.14ZM1895.71 172.0H1898.13V405.3H1895.71ZM1899.28 172.0H1901.70V405.3H1899.28ZM1902.85 172.4H1905.27V405.3H1902.85ZM1906.42 172.0H1908.84V405.3H1906.42ZM1909.99 172.0H1912.41V405.3H1909.99ZM1913.56 172.0H1915.98V405.3H1913.56ZM1917.13 170.2H1919.55V405.3H1917.13ZM1920.70 170.2H1923.12V405.3H1920.70ZM1924.27 170.2H1926.69V405.3H1924.27ZM1927.84 170.2H1930.26V405.3H1927.84ZM1931.41 170.2H1933.83V405.3H1931.41ZM1934.98 170.6H1937.40V405.3H1934.98ZM1938.55 169.8H1940.97V405.3H1938.55ZM1942.12 170.2H1944.54V405.3H1942.12ZM1945.69 169.8H1948.11V405.3H1945.69ZM1949.26 170.2H1951.68V405.3H1949.26ZM1952.83 170.2H1955.25V405.3H1952.83ZM1956.40 170.2H1958.82V405.3H1956.40ZM1959.97 170.6H1962.39V405.3H1959.97ZM1963.54 169.8H1965.96V405.3H1963.54ZM1967.11 171.8H1969.53V405.3H1967.11ZM1970.68 172.6H1973.10V405.3H1970.68ZM1974.25 172.2H1976.67V405.3H1974.25ZM1977.82 172.2H1980.24V405.3H1977.82ZM1981.39 172.2H1983.82V405.3H1981.39ZM1984.97 174.4H1987.39V405.3H1984.97ZM1988.54 174.4H1990.96V405.3H1988.54ZM1992.11 174.4H1994.53V405.3H1992.11ZM1995.68 174.0H1998.10V405.3H1995.68ZM1999.25 174.4H2001.67V405.3H1999.25ZM2002.82 174.0H2005.24V405.3H2002.82ZM2006.39 174.0H2008.81V405.3H2006.39ZM2009.96 174.0H2012.38V405.3H2009.96ZM2013.53 171.8H2015.95V405.3H2013.53ZM2017.10 172.2H2019.52V405.3H2017.10ZM2020.67 172.2H2023.09V405.3H2020.67ZM2024.24 172.6H2026.66V405.3H2024.24ZM2027.81 172.6H2030.23V405.3H2027.81ZM2031.38 170.4H2033.80V405.3H2031.38ZM2034.95 170.8H2037.37V405.3H2034.95ZM2038.52 170.0H2040.94V405.3H2038.52ZM2042.09 170.4H2044.51V405.3H2042.09ZM2045.66 170.0H2048.08V405.3H2045.66ZM2049.23 169.0H2051.65V405.3H2049.23ZM2052.80 169.0H2055.22V405.3H2052.80ZM2056.37 168.2H2058.79V405.3H2056.37ZM2059.94 169.0H2062.36V405.3H2059.94ZM2063.51 169.0H2065.93V405.3H2063.51ZM2067.08 168.6H2069.50V405.3H2067.08ZM2070.65 169.0H2073.07V405.3H2070.65ZM2074.22 169.8H2076.64V405.3H2074.22ZM2077.79 169.8H2080.21V405.3H2077.79ZM2081.36 170.2H2083.78V405.3H2081.36ZM2084.94 170.2H2089.03V405.3H2084.94ZM2090.19 172.0H2092.73V405.3H2090.19ZM2093.89 172.4H2096.31V405.3H2093.89ZM2097.46 172.4H2099.88V405.3H2097.46ZM2101.03 172.0H2103.45V405.3H2101.03ZM2104.60 172.0H2107.02V405.3H2104.60ZM2108.17 172.4H2110.59V405.3H2108.17ZM2111.74 172.4H2114.16V405.3H2111.74ZM2115.31 172.8H2117.73V405.3H2115.31ZM2118.88 172.4H2121.30V405.3H2118.88ZM2122.45 172.0H2124.87V405.3H2122.45ZM2126.02 172.4H2128.44V405.3H2126.02ZM2129.59 170.6H2132.01V405.3H2129.59ZM2133.16 170.6H2135.58V405.3H2133.16ZM2136.73 169.8H2139.15V405.3H2136.73ZM2140.30 170.6H2142.72V405.3H2140.30ZM2143.87 169.8H2146.29V405.3H2143.87ZM2147.44 170.6H2149.86V405.3H2147.44ZM2151.01 170.6H2153.43V405.3H2151.01ZM2154.58 170.6H2157.00V405.3H2154.58ZM2158.15 170.2H2160.57V405.3H2158.15ZM2161.72 170.2H2164.14V405.3H2161.72ZM2165.29 170.2H2167.71V405.3H2165.29ZM2168.86 170.2H2171.28V405.3H2168.86ZM2172.43 170.2H2174.85V405.3H2172.43ZM2176.00 170.2H2178.42V405.3H2176.00ZM2179.57 170.2H2181.99V405.3H2179.57ZM2183.14 170.2H2185.56V405.3H2183.14ZM2186.71 170.6H2189.13V405.3H2186.71ZM2190.28 170.2H2192.70V405.3H2190.28ZM2193.85 172.0H2196.28V405.3H2193.85ZM2197.43 172.0H2199.85V405.3H2197.43ZM2201.00 172.4H2203.42V405.3H2201.00ZM2204.57 172.0H2206.99V405.3H2204.57ZM2208.14 172.0H2210.56V405.3H2208.14ZM2211.71 172.0H2214.13V405.3H2211.71ZM2215.28 172.4H2217.70V405.3H2215.28ZM2218.85 172.0H2221.27V405.3H2218.85ZM2222.42 171.6H2224.84V405.3H2222.42ZM2225.99 172.4H2228.41V405.3H2225.99ZM2229.56 171.6H2231.98V405.3H2229.56ZM2233.13 172.0H2235.55V405.3H2233.13ZM2236.70 172.0H2239.12V405.3H2236.70ZM2240.27 172.0H2242.69V405.3H2240.27ZM2243.84 171.6H2246.26V405.3H2243.84ZM2247.41 172.0H2249.83V405.3H2247.41ZM2250.98 172.0H2253.40V405.3H2250.98ZM2254.55 172.4H2256.97V405.3H2254.55ZM2258.12 172.0H2260.54V405.3H2258.12ZM2261.69 172.0H2264.11V405.3H2261.69ZM2265.26 171.6H2267.68V405.3H2265.26ZM2268.83 172.0H2271.25V405.3H2268.83ZM2272.40 171.6H2274.82V405.3H2272.40ZM2275.97 172.0H2278.39V405.3H2275.97ZM2279.54 171.6H2281.96V405.3H2279.54ZM2283.11 172.0H2285.53V405.3H2283.11ZM2286.68 172.0H2289.10V405.3H2286.68ZM2290.25 172.0H2292.67V405.3H2290.25ZM2293.82 171.6H2296.24V405.3H2293.82ZM2297.40 172.0H2301.49V405.3H2297.40ZM2302.65 169.4H2305.19V405.3H2302.65ZM2306.35 169.8H2308.77V405.3H2306.35ZM2309.92 170.2H2312.34V405.3H2309.92ZM2313.49 169.8H2315.91V405.3H2313.49ZM2317.06 169.8H2319.48V405.3H2317.06ZM2320.63 169.4H2323.05V405.3H2320.63ZM2324.20 169.4H2326.62V405.3H2324.20ZM2327.77 169.8H2330.19V405.3H2327.77ZM2331.34 169.8H2333.76V405.3H2331.34ZM2334.91 170.2H2337.33V405.3H2334.91ZM2338.48 169.8H2340.90V405.3H2338.48ZM2342.05 170.2H2344.47V405.3H2342.05ZM2345.62 169.8H2348.04V405.3H2345.62ZM2349.19 169.4H2351.61V405.3H2349.19ZM2352.76 222.0H2355.18V431.5H2352.76ZM2356.33 307.5H2358.75V473.8H2356.33ZM2359.90 362.8H2362.32V499.0H2359.90ZM2363.47 362.8H2365.89V501.0H2363.47ZM2367.04 362.8H2369.46V501.0H2367.04ZM2370.61 362.8H2373.03V501.0H2370.61ZM2374.18 362.8H2376.60V501.0H2374.18ZM2377.75 362.8H2380.17V501.0H2377.75ZM2381.32 362.8H2383.74V501.0H2381.32ZM2384.89 362.8H2387.31V501.0H2384.89ZM2388.46 362.8H2390.88V501.0H2388.46ZM2392.03 367.0H2394.45V501.0H2392.03ZM2395.60 378.5H2398.02V501.0H2395.60ZM2399.17 392.0H2401.59V507.0H2399.17ZM2402.74 406.5H2405.16V520.5H2402.74ZM2406.31 402.0H2408.74V521.0H2406.31ZM1343.85 521.6H1346.14V639.5H1343.85ZM1347.09 521.6H1349.71V639.5H1347.09ZM1350.66 521.6H1353.28V639.5H1350.66ZM1354.23 521.0H1356.85V639.5H1354.23ZM1357.80 521.6H1360.42V639.5H1357.80ZM1361.37 521.6H1363.99V639.5H1361.37ZM1364.94 521.6H1367.56V639.5H1364.94ZM1368.51 521.0H1371.13V639.5H1368.51ZM1372.08 521.0H1374.70V639.5H1372.08ZM1375.65 521.6H1378.27V639.5H1375.65ZM1379.22 521.0H1381.84V639.5H1379.22ZM1382.79 521.0H1385.41V639.5H1382.79ZM1386.36 522.4H1388.98V639.5H1386.36ZM1389.93 521.6H1392.55V639.5H1389.93ZM1393.50 521.6H1396.12V639.5H1393.50ZM1397.07 470.0H1399.69V639.5H1397.07ZM1400.64 420.0H1403.26V639.5H1400.64ZM1404.21 405.3H1406.83V639.5H1404.21ZM1407.78 405.3H1410.40V639.5H1407.78ZM1411.35 405.3H1413.97V639.5H1411.35ZM1414.92 405.3H1417.54V639.5H1414.92ZM1418.49 405.3H1421.11V639.5H1418.49ZM1422.06 405.3H1424.68V639.5H1422.06ZM1425.63 405.3H1428.25V639.5H1425.63ZM1429.20 405.3H1431.82V639.5H1429.20ZM1432.77 405.3H1435.39V639.5H1432.77ZM1436.34 405.3H1438.96V639.5H1436.34ZM1439.91 405.3H1442.53V639.5H1439.91ZM1443.48 405.3H1446.10V639.5H1443.48ZM1447.06 405.3H1451.35V639.5H1447.06ZM1452.31 405.3H1455.05V639.5H1452.31ZM1456.01 405.3H1458.63V639.5H1456.01ZM1459.58 405.3H1462.20V639.5H1459.58ZM1463.15 405.3H1465.77V639.5H1463.15ZM1466.72 405.3H1469.34V639.5H1466.72ZM1470.29 405.3H1472.91V639.5H1470.29ZM1473.86 405.3H1476.48V639.5H1473.86ZM1477.43 405.3H1480.05V639.5H1477.43ZM1481.00 405.3H1483.62V639.5H1481.00ZM1484.57 405.3H1487.19V639.5H1484.57ZM1488.14 405.3H1490.76V639.5H1488.14ZM1491.71 405.3H1494.33V639.5H1491.71ZM1495.28 405.3H1497.90V639.5H1495.28ZM1498.85 405.3H1501.47V639.5H1498.85ZM1502.42 405.3H1505.04V639.5H1502.42ZM1505.99 405.3H1508.61V639.5H1505.99ZM1509.56 405.3H1512.18V639.5H1509.56ZM1513.13 405.3H1515.75V639.5H1513.13ZM1516.70 405.3H1519.32V639.5H1516.70ZM1520.27 405.3H1522.89V639.5H1520.27ZM1523.84 405.3H1526.46V639.5H1523.84ZM1527.41 405.3H1530.03V639.5H1527.41ZM1530.98 405.3H1533.60V639.5H1530.98ZM1534.55 405.3H1537.17V639.5H1534.55ZM1538.12 405.3H1540.74V639.5H1538.12ZM1541.69 405.3H1544.31V639.5H1541.69ZM1545.26 405.3H1547.88V639.5H1545.26ZM1548.83 405.3H1551.45V639.5H1548.83ZM1552.40 405.3H1555.02V639.5H1552.40ZM1555.97 405.3H1558.60V639.5H1555.97ZM1559.55 405.3H1562.17V639.5H1559.55ZM1563.12 405.3H1565.74V639.5H1563.12ZM1566.69 405.3H1569.31V639.5H1566.69ZM1570.26 405.3H1572.88V639.5H1570.26ZM1573.83 405.3H1576.45V639.5H1573.83ZM1577.40 405.3H1580.02V639.5H1577.40ZM1580.97 405.3H1583.59V639.5H1580.97ZM1584.54 405.3H1587.16V639.5H1584.54ZM1588.11 405.3H1590.73V639.5H1588.11ZM1591.68 405.3H1594.30V639.5H1591.68ZM1595.25 405.3H1597.87V639.5H1595.25ZM1598.82 405.3H1601.44V639.5H1598.82ZM1602.39 405.3H1605.01V639.5H1602.39ZM1605.96 405.3H1608.58V639.5H1605.96ZM1609.53 405.3H1612.15V639.5H1609.53ZM1613.10 405.3H1615.72V639.5H1613.10ZM1616.67 405.3H1619.29V639.5H1616.67ZM1620.24 405.3H1622.86V639.5H1620.24ZM1623.81 405.3H1626.43V639.5H1623.81ZM1627.38 405.3H1630.00V639.5H1627.38ZM1630.95 405.3H1633.57V639.5H1630.95ZM1634.52 405.3H1637.14V639.5H1634.52ZM1638.09 405.3H1640.71V639.5H1638.09ZM1641.66 405.3H1644.28V639.5H1641.66ZM1645.23 405.3H1647.85V639.5H1645.23ZM1648.80 405.3H1651.42V639.5H1648.80ZM1652.37 405.3H1654.99V639.5H1652.37ZM1655.94 405.3H1658.56V639.5H1655.94ZM1659.52 405.3H1663.81V639.5H1659.52ZM1664.77 405.3H1667.51V639.5H1664.77ZM1668.47 405.3H1671.09V639.5H1668.47ZM1672.04 405.3H1674.66V639.5H1672.04ZM1675.61 405.3H1678.23V639.5H1675.61ZM1679.18 405.3H1681.80V639.5H1679.18ZM1682.75 405.3H1685.37V639.5H1682.75ZM1686.32 405.3H1688.94V639.5H1686.32ZM1689.89 405.3H1692.51V639.5H1689.89ZM1693.46 405.3H1696.08V639.5H1693.46ZM1697.03 405.3H1699.65V639.5H1697.03ZM1700.60 405.3H1703.22V639.5H1700.60ZM1704.17 405.3H1706.79V639.5H1704.17ZM1707.74 405.3H1710.36V639.5H1707.74ZM1711.31 405.3H1713.93V639.5H1711.31ZM1714.88 405.3H1717.50V639.5H1714.88ZM1718.45 405.3H1721.07V639.5H1718.45ZM1722.02 405.3H1724.64V639.5H1722.02ZM1725.59 405.3H1728.21V639.5H1725.59ZM1729.16 405.3H1731.78V639.5H1729.16ZM1732.73 405.3H1735.35V639.5H1732.73ZM1736.30 405.3H1738.92V639.5H1736.30ZM1739.87 405.3H1742.49V639.5H1739.87ZM1743.44 405.3H1746.06V639.5H1743.44ZM1747.01 405.3H1749.63V639.5H1747.01ZM1750.58 405.3H1753.20V639.5H1750.58ZM1754.15 405.3H1756.77V639.5H1754.15ZM1757.72 405.3H1760.34V639.5H1757.72ZM1761.29 405.3H1763.91V639.5H1761.29ZM1764.86 405.3H1767.48V639.5H1764.86ZM1768.43 405.3H1771.06V639.5H1768.43ZM1772.01 405.3H1774.63V639.5H1772.01ZM1775.58 405.3H1778.20V639.5H1775.58ZM1779.15 405.3H1781.77V639.5H1779.15ZM1782.72 405.3H1785.34V639.5H1782.72ZM1786.29 405.3H1788.91V639.5H1786.29ZM1789.86 405.3H1792.48V639.5H1789.86ZM1793.43 405.3H1796.05V639.5H1793.43ZM1797.00 405.3H1799.62V639.5H1797.00ZM1800.57 405.3H1803.19V639.5H1800.57ZM1804.14 405.3H1806.76V639.5H1804.14ZM1807.71 405.3H1810.33V639.5H1807.71ZM1811.28 405.3H1813.90V639.5H1811.28ZM1814.85 405.3H1817.47V639.5H1814.85ZM1818.42 405.3H1821.04V639.5H1818.42ZM1821.99 405.3H1824.61V639.5H1821.99ZM1825.56 405.3H1828.18V639.5H1825.56ZM1829.13 405.3H1831.75V639.5H1829.13ZM1832.70 405.3H1835.32V639.5H1832.70ZM1836.27 405.3H1838.89V639.5H1836.27ZM1839.84 405.3H1842.46V639.5H1839.84ZM1843.41 405.3H1846.03V639.5H1843.41ZM1846.98 405.3H1849.60V639.5H1846.98ZM1850.55 405.3H1853.17V639.5H1850.55ZM1854.12 405.3H1856.74V639.5H1854.12ZM1857.69 405.3H1860.31V639.5H1857.69ZM1861.26 405.3H1863.88V639.5H1861.26ZM1864.83 405.3H1867.45V639.5H1864.83ZM1868.40 405.3H1871.02V639.5H1868.40ZM1871.98 405.3H1876.27V639.5H1871.98ZM1877.23 405.3H1879.97V639.5H1877.23ZM1880.93 405.3H1883.55V639.5H1880.93ZM1884.50 405.3H1887.12V639.5H1884.50ZM1888.07 405.3H1890.69V639.5H1888.07ZM1891.64 405.3H1894.26V639.5H1891.64ZM1895.21 405.3H1897.83V639.5H1895.21ZM1898.78 405.3H1901.40V639.5H1898.78ZM1902.35 405.3H1904.97V639.5H1902.35ZM1905.92 405.3H1908.54V639.5H1905.92ZM1909.49 405.3H1912.11V639.5H1909.49ZM1913.06 405.3H1915.68V639.5H1913.06ZM1916.63 405.3H1919.25V639.5H1916.63ZM1920.20 405.3H1922.82V639.5H1920.20ZM1923.77 405.3H1926.39V639.5H1923.77ZM1927.34 405.3H1929.96V639.5H1927.34ZM1930.91 405.3H1933.53V639.5H1930.91ZM1934.48 405.3H1937.10V639.5H1934.48ZM1938.05 405.3H1940.67V639.5H1938.05ZM1941.62 405.3H1944.24V639.5H1941.62ZM1945.19 405.3H1947.81V639.5H1945.19ZM1948.76 405.3H1951.38V639.5H1948.76ZM1952.33 405.3H1954.95V639.5H1952.33ZM1955.90 405.3H1958.52V639.5H1955.90ZM1959.47 405.3H1962.09V639.5H1959.47ZM1963.04 405.3H1965.66V639.5H1963.04ZM1966.61 405.3H1969.23V639.5H1966.61ZM1970.18 405.3H1972.80V639.5H1970.18ZM1973.75 405.3H1976.37V639.5H1973.75ZM1977.32 405.3H1979.94V639.5H1977.32ZM1980.89 405.3H1983.52V639.5H1980.89ZM1984.47 405.3H1987.09V639.5H1984.47ZM1988.04 405.3H1990.66V639.5H1988.04ZM1991.61 405.3H1994.23V639.5H1991.61ZM1995.18 405.3H1997.80V639.5H1995.18ZM1998.75 405.3H2001.37V639.5H1998.75ZM2002.32 405.3H2004.94V639.5H2002.32ZM2005.89 405.3H2008.51V639.5H2005.89ZM2009.46 405.3H2012.08V639.5H2009.46ZM2013.03 405.3H2015.65V639.5H2013.03ZM2016.60 405.3H2019.22V639.5H2016.60ZM2020.17 405.3H2022.79V639.5H2020.17ZM2023.74 405.3H2026.36V639.5H2023.74ZM2027.31 405.3H2029.93V639.5H2027.31ZM2030.88 405.3H2033.50V639.5H2030.88ZM2034.45 405.3H2037.07V639.5H2034.45ZM2038.02 405.3H2040.64V639.5H2038.02ZM2041.59 405.3H2044.21V639.5H2041.59ZM2045.16 405.3H2047.78V639.5H2045.16ZM2048.73 405.3H2051.35V639.5H2048.73ZM2052.30 405.3H2054.92V639.5H2052.30ZM2055.87 405.3H2058.49V639.5H2055.87ZM2059.44 405.3H2062.06V639.5H2059.44ZM2063.01 405.3H2065.63V639.5H2063.01ZM2066.58 405.3H2069.20V639.5H2066.58ZM2070.15 405.3H2072.77V639.5H2070.15ZM2073.72 405.3H2076.34V639.5H2073.72ZM2077.29 405.3H2079.91V639.5H2077.29ZM2080.86 405.3H2083.49V639.5H2080.86ZM2084.43 405.3H2088.74V639.5H2084.43ZM2089.68 405.3H2092.43V639.5H2089.68ZM2093.38 405.3H2096.01V639.5H2093.38ZM2096.96 405.3H2099.58V639.5H2096.96ZM2100.53 405.3H2103.15V639.5H2100.53ZM2104.10 405.3H2106.72V639.5H2104.10ZM2107.67 405.3H2110.29V639.5H2107.67ZM2111.24 405.3H2113.86V639.5H2111.24ZM2114.81 405.3H2117.43V639.5H2114.81ZM2118.38 405.3H2121.00V639.5H2118.38ZM2121.95 405.3H2124.57V639.5H2121.95ZM2125.52 405.3H2128.14V639.5H2125.52ZM2129.09 405.3H2131.71V639.5H2129.09ZM2132.66 405.3H2135.28V639.5H2132.66ZM2136.23 405.3H2138.85V639.5H2136.23ZM2139.80 405.3H2142.42V639.5H2139.80ZM2143.37 405.3H2145.99V639.5H2143.37ZM2146.94 405.3H2149.56V639.5H2146.94ZM2150.51 405.3H2153.13V639.5H2150.51ZM2154.08 405.3H2156.70V639.5H2154.08ZM2157.65 405.3H2160.27V639.5H2157.65ZM2161.22 405.3H2163.84V639.5H2161.22ZM2164.79 405.3H2167.41V639.5H2164.79ZM2168.36 405.3H2170.98V639.5H2168.36ZM2171.93 405.3H2174.55V639.5H2171.93ZM2175.50 405.3H2178.12V639.5H2175.50ZM2179.07 405.3H2181.69V639.5H2179.07ZM2182.64 405.3H2185.26V639.5H2182.64ZM2186.21 405.3H2188.83V639.5H2186.21ZM2189.78 405.3H2192.40V639.5H2189.78ZM2193.35 405.3H2195.98V639.5H2193.35ZM2196.93 405.3H2199.55V639.5H2196.93ZM2200.50 405.3H2203.12V639.5H2200.50ZM2204.07 405.3H2206.69V639.5H2204.07ZM2207.64 405.3H2210.26V639.5H2207.64ZM2211.21 405.3H2213.83V639.5H2211.21ZM2214.78 405.3H2217.40V639.5H2214.78ZM2218.35 405.3H2220.97V639.5H2218.35ZM2221.92 405.3H2224.54V639.5H2221.92ZM2225.49 405.3H2228.11V639.5H2225.49ZM2229.06 405.3H2231.68V639.5H2229.06ZM2232.63 405.3H2235.25V639.5H2232.63ZM2236.20 405.3H2238.82V639.5H2236.20ZM2239.77 405.3H2242.39V639.5H2239.77ZM2243.34 405.3H2245.96V639.5H2243.34ZM2246.91 405.3H2249.53V639.5H2246.91ZM2250.48 405.3H2253.10V639.5H2250.48ZM2254.05 405.3H2256.67V639.5H2254.05ZM2257.62 405.3H2260.24V639.5H2257.62ZM2261.19 405.3H2263.81V639.5H2261.19ZM2264.76 405.3H2267.38V639.5H2264.76ZM2268.33 405.3H2270.95V639.5H2268.33ZM2271.90 405.3H2274.52V639.5H2271.90ZM2275.47 405.3H2278.09V639.5H2275.47ZM2279.04 405.3H2281.66V639.5H2279.04ZM2282.61 405.3H2285.23V639.5H2282.61ZM2286.18 405.3H2288.80V639.5H2286.18ZM2289.75 405.3H2292.37V639.5H2289.75ZM2293.32 405.3H2295.95V639.5H2293.32ZM2296.89 405.3H2301.20V639.5H2296.89ZM2302.14 405.3H2304.89V639.5H2302.14ZM2305.84 405.3H2308.47V639.5H2305.84ZM2309.42 405.3H2312.04V639.5H2309.42ZM2312.99 405.3H2315.61V639.5H2312.99ZM2316.56 405.3H2319.18V639.5H2316.56ZM2320.13 405.3H2322.75V639.5H2320.13ZM2323.70 405.3H2326.32V639.5H2323.70ZM2327.27 405.3H2329.89V639.5H2327.27ZM2330.84 405.3H2333.46V639.5H2330.84ZM2334.41 405.3H2337.03V639.5H2334.41ZM2337.98 405.3H2340.60V639.5H2337.98ZM2341.55 405.3H2344.17V639.5H2341.55ZM2345.12 405.3H2347.74V639.5H2345.12ZM2348.69 405.3H2351.31V639.5H2348.69ZM2352.26 431.5H2354.88V639.5H2352.26ZM2355.83 473.8H2358.45V639.5H2355.83ZM2359.40 499.0H2362.02V639.5H2359.40ZM2362.97 501.0H2365.59V639.5H2362.97ZM2366.54 501.0H2369.16V639.5H2366.54ZM2370.11 501.0H2372.73V639.5H2370.11ZM2373.68 501.0H2376.30V639.5H2373.68ZM2377.25 501.0H2379.87V639.5H2377.25ZM2380.82 501.0H2383.44V639.5H2380.82ZM2384.39 501.0H2387.01V639.5H2384.39ZM2387.96 501.0H2390.58V639.5H2387.96ZM2391.53 501.0H2394.15V639.5H2391.53ZM2395.10 501.0H2397.72V639.5H2395.10ZM2398.67 507.0H2401.29V639.5H2398.67ZM2402.24 520.5H2404.86V639.5H2402.24ZM2405.81 521.0H2408.44V639.5H2405.81Z" fill="#1212ff" fill-opacity="0.5"/>
<path d="M1344.71 404.0H1345.74V521.6H1344.71ZM1348.29 405.9H1349.31V521.6H1348.29ZM1351.86 404.1H1352.88V521.6H1351.86ZM1355.43 405.5H1356.45V521.0H1355.43ZM1359.00 395.0H1360.02V521.6H1359.00ZM1362.57 406.5H1363.59V521.6H1362.57ZM1366.14 404.3H1367.16V521.6H1366.14ZM1369.71 405.2H1370.73V521.0H1369.71ZM1373.28 404.8H1374.30V521.0H1373.28ZM1376.85 406.8H1377.87V521.6H1376.85ZM1380.42 402.9H1381.44V521.0H1380.42ZM1383.99 403.1H1385.01V521.0H1383.99ZM1387.56 403.2H1388.58V522.4H1387.56ZM1391.13 403.7H1392.15V521.6H1391.13ZM1394.70 389.0H1395.72V521.6H1394.70ZM1398.27 311.0H1399.29V470.0H1398.27ZM1401.84 206.0H1402.86V420.0H1401.84ZM1405.41 172.6H1406.43V405.3H1405.41ZM1408.98 172.6H1410.00V405.3H1408.98ZM1412.55 172.6H1413.57V405.3H1412.55ZM1416.12 173.0H1417.14V405.3H1416.12ZM1419.69 172.6H1420.71V405.3H1419.69ZM1423.26 173.0H1424.28V405.3H1423.26ZM1426.83 172.6H1427.85V405.3H1426.83ZM1430.40 173.0H1431.42V405.3H1430.40ZM1433.97 172.6H1434.99V405.3H1433.97ZM1437.54 172.2H1438.56V405.3H1437.54ZM1441.11 172.6H1442.13V405.3H1441.11ZM1444.68 172.2H1445.71V405.3H1444.68ZM1448.25 172.2H1450.96V405.3H1448.25ZM1453.50 174.4H1454.66V405.3H1453.50ZM1457.20 174.4H1458.23V405.3H1457.20ZM1460.78 174.4H1461.80V405.3H1460.78ZM1464.35 174.0H1465.37V405.3H1464.35ZM1467.92 174.4H1468.94V405.3H1467.92ZM1471.49 174.8H1472.51V405.3H1471.49ZM1475.06 174.0H1476.08V405.3H1475.06ZM1478.63 174.4H1479.65V405.3H1478.63ZM1482.20 174.4H1483.22V405.3H1482.20ZM1485.77 174.4H1486.79V405.3H1485.77ZM1489.34 174.8H1490.36V405.3H1489.34ZM1492.91 174.8H1493.93V405.3H1492.91ZM1496.48 174.8H1497.50V405.3H1496.48ZM1500.05 174.0H1501.07V405.3H1500.05ZM1503.62 174.0H1504.64V405.3H1503.62ZM1507.19 174.4H1508.21V405.3H1507.19ZM1510.76 174.4H1511.78V405.3H1510.76ZM1514.33 174.8H1515.35V405.3H1514.33ZM1517.90 174.0H1518.92V405.3H1517.90ZM1521.47 174.0H1522.49V405.3H1521.47ZM1525.04 174.4H1526.06V405.3H1525.04ZM1528.61 174.0H1529.63V405.3H1528.61ZM1532.18 174.4H1533.20V405.3H1532.18ZM1535.75 174.0H1536.77V405.3H1535.75ZM1539.32 174.4H1540.34V405.3H1539.32ZM1542.89 174.4H1543.91V405.3H1542.89ZM1546.46 174.4H1547.48V405.3H1546.46ZM1550.03 174.0H1551.05V405.3H1550.03ZM1553.60 174.8H1554.62V405.3H1553.60ZM1557.17 174.0H1558.20V405.3H1557.17ZM1560.75 174.4H1561.77V405.3H1560.75ZM1564.32 174.4H1565.34V405.3H1564.32ZM1567.89 174.4H1568.91V405.3H1567.89ZM1571.46 174.0H1572.48V405.3H1571.46ZM1575.03 174.4H1576.05V405.3H1575.03ZM1578.60 174.4H1579.62V405.3H1578.60ZM1582.17 174.4H1583.19V405.3H1582.17ZM1585.74 174.4H1586.76V405.3H1585.74ZM1589.31 174.8H1590.33V405.3H1589.31ZM1592.88 174.4H1593.90V405.3H1592.88ZM1596.45 174.4H1597.47V405.3H1596.45ZM1600.02 174.0H1601.04V405.3H1600.02ZM1603.59 174.4H1604.61V405.3H1603.59ZM1607.16 175.8H1608.18V405.3H1607.16ZM1610.73 176.2H1611.75V405.3H1610.73ZM1614.30 175.8H1615.32V405.3H1614.30ZM1617.87 175.8H1618.89V405.3H1617.87ZM1621.44 175.8H1622.46V405.3H1621.44ZM1625.01 175.8H1626.03V405.3H1625.01ZM1628.58 175.8H1629.60V405.3H1628.58ZM1632.15 175.4H1633.17V405.3H1632.15ZM1635.72 175.8H1636.74V405.3H1635.72ZM1639.29 175.8H1640.31V405.3H1639.29ZM1642.86 175.4H1643.88V405.3H1642.86ZM1646.43 174.0H1647.45V405.3H1646.43ZM1650.00 174.0H1651.02V405.3H1650.00ZM1653.57 174.0H1654.59V405.3H1653.57ZM1657.14 173.6H1658.17V405.3H1657.14ZM1660.71 174.0H1663.42V405.3H1660.71ZM1665.96 171.6H1667.12V405.3H1665.96ZM1669.66 171.6H1670.69V405.3H1669.66ZM1673.24 172.0H1674.26V405.3H1673.24ZM1676.81 172.0H1677.83V405.3H1676.81ZM1680.38 172.0H1681.40V405.3H1680.38ZM1683.95 172.0H1684.97V405.3H1683.95ZM1687.52 171.6H1688.54V405.3H1687.52ZM1691.09 172.0H1692.11V405.3H1691.09ZM1694.66 171.2H1695.68V405.3H1694.66ZM1698.23 171.2H1699.25V405.3H1698.23ZM1701.80 169.4H1702.82V405.3H1701.80ZM1705.37 169.0H1706.39V405.3H1705.37ZM1708.94 169.0H1709.96V405.3H1708.94ZM1712.51 169.4H1713.53V405.3H1712.51ZM1716.08 170.2H1717.10V405.3H1716.08ZM1719.65 170.6H1720.67V405.3H1719.65ZM1723.22 170.6H1724.24V405.3H1723.22ZM1726.79 170.2H1727.81V405.3H1726.79ZM1730.36 171.0H1731.38V405.3H1730.36ZM1733.93 170.6H1734.95V405.3H1733.93ZM1737.50 171.0H1738.52V405.3H1737.50ZM1741.07 172.4H1742.09V405.3H1741.07ZM1744.64 172.4H1745.66V405.3H1744.64ZM1748.21 172.4H1749.23V405.3H1748.21ZM1751.78 172.0H1752.80V405.3H1751.78ZM1755.35 172.4H1756.37V405.3H1755.35ZM1758.92 172.4H1759.94V405.3H1758.92ZM1762.49 172.4H1763.51V405.3H1762.49ZM1766.06 172.0H1767.08V405.3H1766.06ZM1769.63 172.4H1770.66V405.3H1769.63ZM1773.21 172.4H1774.23V405.3H1773.21ZM1776.78 172.4H1777.80V405.3H1776.78ZM1780.35 170.6H1781.37V405.3H1780.35ZM1783.92 170.6H1784.94V405.3H1783.92ZM1787.49 170.6H1788.51V405.3H1787.49ZM1791.06 171.0H1792.08V405.3H1791.06ZM1794.63 171.0H1795.65V405.3H1794.63ZM1798.20 170.6H1799.22V405.3H1798.20ZM1801.77 170.6H1802.79V405.3H1801.77ZM1805.34 170.2H1806.36V405.3H1805.34ZM1808.91 171.0H1809.93V405.3H1808.91ZM1812.48 171.0H1813.50V405.3H1812.48ZM1816.05 170.6H1817.07V405.3H1816.05ZM1819.62 170.6H1820.64V405.3H1819.62ZM1823.19 170.6H1824.21V405.3H1823.19ZM1826.76 170.6H1827.78V405.3H1826.76ZM1830.33 170.6H1831.35V405.3H1830.33ZM1833.90 170.2H1834.92V405.3H1833.90ZM1837.47 171.0H1838.49V405.3H1837.47ZM1841.04 170.6H1842.06V405.3H1841.04ZM1844.61 170.6H1845.63V405.3H1844.61ZM1848.18 171.0H1849.20V405.3H1848.18ZM1851.75 171.6H1852.77V405.3H1851.75ZM1855.32 172.0H1856.34V405.3H1855.32ZM1858.89 172.0H1859.91V405.3H1858.89ZM1862.46 172.4H1863.48V405.3H1862.46ZM1866.03 172.0H1867.05V405.3H1866.03ZM1869.60 172.0H1870.63V405.3H1869.60ZM1873.17 171.6H1875.88V405.3H1873.17ZM1878.42 172.0H1879.58V405.3H1878.42ZM1882.12 172.4H1883.15V405.3H1882.12ZM1885.70 171.6H1886.72V405.3H1885.70ZM1889.27 172.0H1890.29V405.3H1889.27ZM1892.84 172.4H1893.86V405.3H1892.84ZM1896.41 172.0H1897.43V405.3H1896.41ZM1899.98 172.0H1901.00V405.3H1899.98ZM1903.55 172.4H1904.57V405.3H1903.55ZM1907.12 172.0H1908.14V405.3H1907.12ZM1910.69 172.0H1911.71V405.3H1910.69ZM1914.26 172.0H1915.28V405.3H1914.26ZM1917.83 170.2H1918.85V405.3H1917.83ZM1921.40 170.2H1922.42V405.3H1921.40ZM1924.97 170.2H1925.99V405.3H1924.97ZM1928.54 170.2H1929.56V405.3H1928.54ZM1932.11 170.2H1933.13V405.3H1932.11ZM1935.68 170.6H1936.70V405.3H1935.68ZM1939.25 169.8H1940.27V405.3H1939.25ZM1942.82 170.2H1943.84V405.3H1942.82ZM1946.39 169.8H1947.41V405.3H1946.39ZM1949.96 170.2H1950.98V405.3H1949.96ZM1953.53 170.2H1954.55V405.3H1953.53ZM1957.10 170.2H1958.12V405.3H1957.10ZM1960.67 170.6H1961.69V405.3H1960.67ZM1964.24 169.8H1965.26V405.3H1964.24ZM1967.81 171.8H1968.83V405.3H1967.81ZM1971.38 172.6H1972.40V405.3H1971.38ZM1974.95 172.2H1975.97V405.3H1974.95ZM1978.52 172.2H1979.54V405.3H1978.52ZM1982.09 172.2H1983.12V405.3H1982.09ZM1985.67 174.4H1986.69V405.3H1985.67ZM1989.24 174.4H1990.26V405.3H1989.24ZM1992.81 174.4H1993.83V405.3H1992.81ZM1996.38 174.0H1997.40V405.3H1996.38ZM1999.95 174.4H2000.97V405.3H1999.95ZM2003.52 174.0H2004.54V405.3H2003.52ZM2007.09 174.0H2008.11V405.3H2007.09ZM2010.66 174.0H2011.68V405.3H2010.66ZM2014.23 171.8H2015.25V405.3H2014.23ZM2017.80 172.2H2018.82V405.3H2017.80ZM2021.37 172.2H2022.39V405.3H2021.37ZM2024.94 172.6H2025.96V405.3H2024.94ZM2028.51 172.6H2029.53V405.3H2028.51ZM2032.08 170.4H2033.10V405.3H2032.08ZM2035.65 170.8H2036.67V405.3H2035.65ZM2039.22 170.0H2040.24V405.3H2039.22ZM2042.79 170.4H2043.81V405.3H2042.79ZM2046.36 170.0H2047.38V405.3H2046.36ZM2049.93 169.0H2050.95V405.3H2049.93ZM2053.50 169.0H2054.52V405.3H2053.50ZM2057.07 168.2H2058.09V405.3H2057.07ZM2060.64 169.0H2061.66V405.3H2060.64ZM2064.21 169.0H2065.23V405.3H2064.21ZM2067.78 168.6H2068.80V405.3H2067.78ZM2071.35 169.0H2072.37V405.3H2071.35ZM2074.92 169.8H2075.94V405.3H2074.92ZM2078.49 169.8H2079.51V405.3H2078.49ZM2082.06 170.2H2083.09V405.3H2082.06ZM2085.64 170.2H2088.34V405.3H2085.64ZM2090.89 172.0H2092.03V405.3H2090.89ZM2094.59 172.4H2095.61V405.3H2094.59ZM2098.16 172.4H2099.18V405.3H2098.16ZM2101.73 172.0H2102.75V405.3H2101.73ZM2105.30 172.0H2106.32V405.3H2105.30ZM2108.87 172.4H2109.89V405.3H2108.87ZM2112.44 172.4H2113.46V405.3H2112.44ZM2116.01 172.8H2117.03V405.3H2116.01ZM2119.58 172.4H2120.60V405.3H2119.58ZM2123.15 172.0H2124.17V405.3H2123.15ZM2126.72 172.4H2127.74V405.3H2126.72ZM2130.29 170.6H2131.31V405.3H2130.29ZM2133.86 170.6H2134.88V405.3H2133.86ZM2137.43 169.8H2138.45V405.3H2137.43ZM2141.00 170.6H2142.02V405.3H2141.00ZM2144.57 169.8H2145.59V405.3H2144.57ZM2148.14 170.6H2149.16V405.3H2148.14ZM2151.71 170.6H2152.73V405.3H2151.71ZM2155.28 170.6H2156.30V405.3H2155.28ZM2158.85 170.2H2159.87V405.3H2158.85ZM2162.42 170.2H2163.44V405.3H2162.42ZM2165.99 170.2H2167.01V405.3H2165.99ZM2169.56 170.2H2170.58V405.3H2169.56ZM2173.13 170.2H2174.15V405.3H2173.13ZM2176.70 170.2H2177.72V405.3H2176.70ZM2180.27 170.2H2181.29V405.3H2180.27ZM2183.84 170.2H2184.86V405.3H2183.84ZM2187.41 170.6H2188.43V405.3H2187.41ZM2190.98 170.2H2192.00V405.3H2190.98ZM2194.55 172.0H2195.58V405.3H2194.55ZM2198.13 172.0H2199.15V405.3H2198.13ZM2201.70 172.4H2202.72V405.3H2201.70ZM2205.27 172.0H2206.29V405.3H2205.27ZM2208.84 172.0H2209.86V405.3H2208.84ZM2212.41 172.0H2213.43V405.3H2212.41ZM2215.98 172.4H2217.00V405.3H2215.98ZM2219.55 172.0H2220.57V405.3H2219.55ZM2223.12 171.6H2224.14V405.3H2223.12ZM2226.69 172.4H2227.71V405.3H2226.69ZM2230.26 171.6H2231.28V405.3H2230.26ZM2233.83 172.0H2234.85V405.3H2233.83ZM2237.40 172.0H2238.42V405.3H2237.40ZM2240.97 172.0H2241.99V405.3H2240.97ZM2244.54 171.6H2245.56V405.3H2244.54ZM2248.11 172.0H2249.13V405.3H2248.11ZM2251.68 172.0H2252.70V405.3H2251.68ZM2255.25 172.4H2256.27V405.3H2255.25ZM2258.82 172.0H2259.84V405.3H2258.82ZM2262.39 172.0H2263.41V405.3H2262.39ZM2265.96 171.6H2266.98V405.3H2265.96ZM2269.53 172.0H2270.55V405.3H2269.53ZM2273.10 171.6H2274.12V405.3H2273.10ZM2276.67 172.0H2277.69V405.3H2276.67ZM2280.24 171.6H2281.26V405.3H2280.24ZM2283.81 172.0H2284.83V405.3H2283.81ZM2287.38 172.0H2288.40V405.3H2287.38ZM2290.95 172.0H2291.97V405.3H2290.95ZM2294.52 171.6H2295.55V405.3H2294.52ZM2298.10 172.0H2300.80V405.3H2298.10ZM2303.35 169.4H2304.49V405.3H2303.35ZM2307.05 169.8H2308.07V405.3H2307.05ZM2310.62 170.2H2311.64V405.3H2310.62ZM2314.19 169.8H2315.21V405.3H2314.19ZM2317.76 169.8H2318.78V405.3H2317.76ZM2321.33 169.4H2322.35V405.3H2321.33ZM2324.90 169.4H2325.92V405.3H2324.90ZM2328.47 169.8H2329.49V405.3H2328.47ZM2332.04 169.8H2333.06V405.3H2332.04ZM2335.61 170.2H2336.63V405.3H2335.61ZM2339.18 169.8H2340.20V405.3H2339.18ZM2342.75 170.2H2343.77V405.3H2342.75ZM2346.32 169.8H2347.34V405.3H2346.32ZM2349.89 169.4H2350.91V405.3H2349.89ZM2353.46 222.0H2354.48V431.5H2353.46ZM2357.03 307.5H2358.05V473.8H2357.03ZM2360.60 362.8H2361.62V499.0H2360.60ZM2364.17 362.8H2365.19V501.0H2364.17ZM2367.74 362.8H2368.76V501.0H2367.74ZM2371.31 362.8H2372.33V501.0H2371.31ZM2374.88 362.8H2375.90V501.0H2374.88ZM2378.45 362.8H2379.47V501.0H2378.45ZM2382.02 362.8H2383.04V501.0H2382.02ZM2385.59 362.8H2386.61V501.0H2385.59ZM2389.16 362.8H2390.18V501.0H2389.16ZM2392.73 367.0H2393.75V501.0H2392.73ZM2396.30 378.5H2397.32V501.0H2396.30ZM2399.87 392.0H2400.89V507.0H2399.87ZM2403.44 406.5H2404.46V520.5H2403.44ZM2407.01 402.0H2408.04V521.0H2407.01ZM1344.55 521.6H1345.44V639.5H1344.55ZM1347.79 521.6H1349.01V639.5H1347.79ZM1351.36 521.6H1352.58V639.5H1351.36ZM1354.93 521.0H1356.15V639.5H1354.93ZM1358.50 521.6H1359.72V639.5H1358.50ZM1362.07 521.6H1363.29V639.5H1362.07ZM1365.64 521.6H1366.86V639.5H1365.64ZM1369.21 521.0H1370.43V639.5H1369.21ZM1372.78 521.0H1374.00V639.5H1372.78ZM1376.35 521.6H1377.57V639.5H1376.35ZM1379.92 521.0H1381.14V639.5H1379.92ZM1383.49 521.0H1384.71V639.5H1383.49ZM1387.06 522.4H1388.28V639.5H1387.06ZM1390.63 521.6H1391.85V639.5H1390.63ZM1394.20 521.6H1395.42V639.5H1394.20ZM1397.77 470.0H1398.99V639.5H1397.77ZM1401.34 420.0H1402.56V639.5H1401.34ZM1404.91 405.3H1406.13V639.5H1404.91ZM1408.48 405.3H1409.70V639.5H1408.48ZM1412.05 405.3H1413.27V639.5H1412.05ZM1415.62 405.3H1416.84V639.5H1415.62ZM1419.19 405.3H1420.41V639.5H1419.19ZM1422.76 405.3H1423.98V639.5H1422.76ZM1426.33 405.3H1427.55V639.5H1426.33ZM1429.90 405.3H1431.12V639.5H1429.90ZM1433.47 405.3H1434.69V639.5H1433.47ZM1437.04 405.3H1438.26V639.5H1437.04ZM1440.61 405.3H1441.83V639.5H1440.61ZM1444.18 405.3H1445.40V639.5H1444.18ZM1447.75 405.3H1450.65V639.5H1447.75ZM1453.00 405.3H1454.36V639.5H1453.00ZM1456.70 405.3H1457.93V639.5H1456.70ZM1460.28 405.3H1461.50V639.5H1460.28ZM1463.85 405.3H1465.07V639.5H1463.85ZM1467.42 405.3H1468.64V639.5H1467.42ZM1470.99 405.3H1472.21V639.5H1470.99ZM1474.56 405.3H1475.78V639.5H1474.56ZM1478.13 405.3H1479.35V639.5H1478.13ZM1481.70 405.3H1482.92V639.5H1481.70ZM1485.27 405.3H1486.49V639.5H1485.27ZM1488.84 405.3H1490.06V639.5H1488.84ZM1492.41 405.3H1493.63V639.5H1492.41ZM1495.98 405.3H1497.20V639.5H1495.98ZM1499.55 405.3H1500.77V639.5H1499.55ZM1503.12 405.3H1504.34V639.5H1503.12ZM1506.69 405.3H1507.91V639.5H1506.69ZM1510.26 405.3H1511.48V639.5H1510.26ZM1513.83 405.3H1515.05V639.5H1513.83ZM1517.40 405.3H1518.62V639.5H1517.40ZM1520.97 405.3H1522.19V639.5H1520.97ZM1524.54 405.3H1525.76V639.5H1524.54ZM1528.11 405.3H1529.33V639.5H1528.11ZM1531.68 405.3H1532.90V639.5H1531.68ZM1535.25 405.3H1536.47V639.5H1535.25ZM1538.82 405.3H1540.04V639.5H1538.82ZM1542.39 405.3H1543.61V639.5H1542.39ZM1545.96 405.3H1547.18V639.5H1545.96ZM1549.53 405.3H1550.75V639.5H1549.53ZM1553.10 405.3H1554.32V639.5H1553.10ZM1556.67 405.3H1557.90V639.5H1556.67ZM1560.25 405.3H1561.47V639.5H1560.25ZM1563.82 405.3H1565.04V639.5H1563.82ZM1567.39 405.3H1568.61V639.5H1567.39ZM1570.96 405.3H1572.18V639.5H1570.96ZM1574.53 405.3H1575.75V639.5H1574.53ZM1578.10 405.3H1579.32V639.5H1578.10ZM1581.67 405.3H1582.89V639.5H1581.67ZM1585.24 405.3H1586.46V639.5H1585.24ZM1588.81 405.3H1590.03V639.5H1588.81ZM1592.38 405.3H1593.60V639.5H1592.38ZM1595.95 405.3H1597.17V639.5H1595.95ZM1599.52 405.3H1600.74V639.5H1599.52ZM1603.09 405.3H1604.31V639.5H1603.09ZM1606.66 405.3H1607.88V639.5H1606.66ZM1610.23 405.3H1611.45V639.5H1610.23ZM1613.80 405.3H1615.02V639.5H1613.80ZM1617.37 405.3H1618.59V639.5H1617.37ZM1620.94 405.3H1622.16V639.5H1620.94ZM1624.51 405.3H1625.73V639.5H1624.51ZM1628.08 405.3H1629.30V639.5H1628.08ZM1631.65 405.3H1632.87V639.5H1631.65ZM1635.22 405.3H1636.44V639.5H1635.22ZM1638.79 405.3H1640.01V639.5H1638.79ZM1642.36 405.3H1643.58V639.5H1642.36ZM1645.93 405.3H1647.15V639.5H1645.93ZM1649.50 405.3H1650.72V639.5H1649.50ZM1653.07 405.3H1654.29V639.5H1653.07ZM1656.64 405.3H1657.87V639.5H1656.64ZM1660.21 405.3H1663.12V639.5H1660.21ZM1665.46 405.3H1666.82V639.5H1665.46ZM1669.16 405.3H1670.39V639.5H1669.16ZM1672.74 405.3H1673.96V639.5H1672.74ZM1676.31 405.3H1677.53V639.5H1676.31ZM1679.88 405.3H1681.10V639.5H1679.88ZM1683.45 405.3H1684.67V639.5H1683.45ZM1687.02 405.3H1688.24V639.5H1687.02ZM1690.59 405.3H1691.81V639.5H1690.59ZM1694.16 405.3H1695.38V639.5H1694.16ZM1697.73 405.3H1698.95V639.5H1697.73ZM1701.30 405.3H1702.52V639.5H1701.30ZM1704.87 405.3H1706.09V639.5H1704.87ZM1708.44 405.3H1709.66V639.5H1708.44ZM1712.01 405.3H1713.23V639.5H1712.01ZM1715.58 405.3H1716.80V639.5H1715.58ZM1719.15 405.3H1720.37V639.5H1719.15ZM1722.72 405.3H1723.94V639.5H1722.72ZM1726.29 405.3H1727.51V639.5H1726.29ZM1729.86 405.3H1731.08V639.5H1729.86ZM1733.43 405.3H1734.65V639.5H1733.43ZM1737.00 405.3H1738.22V639.5H1737.00ZM1740.57 405.3H1741.79V639.5H1740.57ZM1744.14 405.3H1745.36V639.5H1744.14ZM1747.71 405.3H1748.93V639.5H1747.71ZM1751.28 405.3H1752.50V639.5H1751.28ZM1754.85 405.3H1756.07V639.5H1754.85ZM1758.42 405.3H1759.64V639.5H1758.42ZM1761.99 405.3H1763.21V639.5H1761.99ZM1765.56 405.3H1766.78V639.5H1765.56ZM1769.13 405.3H1770.36V639.5H1769.13ZM1772.71 405.3H1773.93V639.5H1772.71ZM1776.28 405.3H1777.50V639.5H1776.28ZM1779.85 405.3H1781.07V639.5H1779.85ZM1783.42 405.3H1784.64V639.5H1783.42ZM1786.99 405.3H1788.21V639.5H1786.99ZM1790.56 405.3H1791.78V639.5H1790.56ZM1794.13 405.3H1795.35V639.5H1794.13ZM1797.70 405.3H1798.92V639.5H1797.70ZM1801.27 405.3H1802.49V639.5H1801.27ZM1804.84 405.3H1806.06V639.5H1804.84ZM1808.41 405.3H1809.63V639.5H1808.41ZM1811.98 405.3H1813.20V639.5H1811.98ZM1815.55 405.3H1816.77V639.5H1815.55ZM1819.12 405.3H1820.34V639.5H1819.12ZM1822.69 405.3H1823.91V639.5H1822.69ZM1826.26 405.3H1827.48V639.5H1826.26ZM1829.83 405.3H1831.05V639.5H1829.83ZM1833.40 405.3H1834.62V639.5H1833.40ZM1836.97 405.3H1838.19V639.5H1836.97ZM1840.54 405.3H1841.76V639.5H1840.54ZM1844.11 405.3H1845.33V639.5H1844.11ZM1847.68 405.3H1848.90V639.5H1847.68ZM1851.25 405.3H1852.47V639.5H1851.25ZM1854.82 405.3H1856.04V639.5H1854.82ZM1858.39 405.3H1859.61V639.5H1858.39ZM1861.96 405.3H1863.18V639.5H1861.96ZM1865.53 405.3H1866.75V639.5H1865.53ZM1869.10 405.3H1870.33V639.5H1869.10ZM1872.67 405.3H1875.58V639.5H1872.67ZM1877.92 405.3H1879.28V639.5H1877.92ZM1881.62 405.3H1882.85V639.5H1881.62ZM1885.20 405.3H1886.42V639.5H1885.20ZM1888.77 405.3H1889.99V639.5H1888.77ZM1892.34 405.3H1893.56V639.5H1892.34ZM1895.91 405.3H1897.13V639.5H1895.91ZM1899.48 405.3H1900.70V639.5H1899.48ZM1903.05 405.3H1904.27V639.5H1903.05ZM1906.62 405.3H1907.84V639.5H1906.62ZM1910.19 405.3H1911.41V639.5H1910.19ZM1913.76 405.3H1914.98V639.5H1913.76ZM1917.33 405.3H1918.55V639.5H1917.33ZM1920.90 405.3H1922.12V639.5H1920.90ZM1924.47 405.3H1925.69V639.5H1924.47ZM1928.04 405.3H1929.26V639.5H1928.04ZM1931.61 405.3H1932.83V639.5H1931.61ZM1935.18 405.3H1936.40V639.5H1935.18ZM1938.75 405.3H1939.97V639.5H1938.75ZM1942.32 405.3H1943.54V639.5H1942.32ZM1945.89 405.3H1947.11V639.5H1945.89ZM1949.46 405.3H1950.68V639.5H1949.46ZM1953.03 405.3H1954.25V639.5H1953.03ZM1956.60 405.3H1957.82V639.5H1956.60ZM1960.17 405.3H1961.39V639.5H1960.17ZM1963.74 405.3H1964.96V639.5H1963.74ZM1967.31 405.3H1968.53V639.5H1967.31ZM1970.88 405.3H1972.10V639.5H1970.88ZM1974.45 405.3H1975.67V639.5H1974.45ZM1978.02 405.3H1979.24V639.5H1978.02ZM1981.59 405.3H1982.82V639.5H1981.59ZM1985.17 405.3H1986.39V639.5H1985.17ZM1988.74 405.3H1989.96V639.5H1988.74ZM1992.31 405.3H1993.53V639.5H1992.31ZM1995.88 405.3H1997.10V639.5H1995.88ZM1999.45 405.3H2000.67V639.5H1999.45ZM2003.02 405.3H2004.24V639.5H2003.02ZM2006.59 405.3H2007.81V639.5H2006.59ZM2010.16 405.3H2011.38V639.5H2010.16ZM2013.73 405.3H2014.95V639.5H2013.73ZM2017.30 405.3H2018.52V639.5H2017.30ZM2020.87 405.3H2022.09V639.5H2020.87ZM2024.44 405.3H2025.66V639.5H2024.44ZM2028.01 405.3H2029.23V639.5H2028.01ZM2031.58 405.3H2032.80V639.5H2031.58ZM2035.15 405.3H2036.37V639.5H2035.15ZM2038.72 405.3H2039.94V639.5H2038.72ZM2042.29 405.3H2043.51V639.5H2042.29ZM2045.86 405.3H2047.08V639.5H2045.86ZM2049.43 405.3H2050.65V639.5H2049.43ZM2053.00 405.3H2054.22V639.5H2053.00ZM2056.57 405.3H2057.79V639.5H2056.57ZM2060.14 405.3H2061.36V639.5H2060.14ZM2063.71 405.3H2064.93V639.5H2063.71ZM2067.28 405.3H2068.50V639.5H2067.28ZM2070.85 405.3H2072.07V639.5H2070.85ZM2074.42 405.3H2075.64V639.5H2074.42ZM2077.99 405.3H2079.21V639.5H2077.99ZM2081.56 405.3H2082.79V639.5H2081.56ZM2085.13 405.3H2088.04V639.5H2085.13ZM2090.38 405.3H2091.74V639.5H2090.38ZM2094.08 405.3H2095.31V639.5H2094.08ZM2097.66 405.3H2098.88V639.5H2097.66ZM2101.23 405.3H2102.45V639.5H2101.23ZM2104.80 405.3H2106.02V639.5H2104.80ZM2108.37 405.3H2109.59V639.5H2108.37ZM2111.94 405.3H2113.16V639.5H2111.94ZM2115.51 405.3H2116.73V639.5H2115.51ZM2119.08 405.3H2120.30V639.5H2119.08ZM2122.65 405.3H2123.87V639.5H2122.65ZM2126.22 405.3H2127.44V639.5H2126.22ZM2129.79 405.3H2131.01V639.5H2129.79ZM2133.36 405.3H2134.58V639.5H2133.36ZM2136.93 405.3H2138.15V639.5H2136.93ZM2140.50 405.3H2141.72V639.5H2140.50ZM2144.07 405.3H2145.29V639.5H2144.07ZM2147.64 405.3H2148.86V639.5H2147.64ZM2151.21 405.3H2152.43V639.5H2151.21ZM2154.78 405.3H2156.00V639.5H2154.78ZM2158.35 405.3H2159.57V639.5H2158.35ZM2161.92 405.3H2163.14V639.5H2161.92ZM2165.49 405.3H2166.71V639.5H2165.49ZM2169.06 405.3H2170.28V639.5H2169.06ZM2172.63 405.3H2173.85V639.5H2172.63ZM2176.20 405.3H2177.42V639.5H2176.20ZM2179.77 405.3H2180.99V639.5H2179.77ZM2183.34 405.3H2184.56V639.5H2183.34ZM2186.91 405.3H2188.13V639.5H2186.91ZM2190.48 405.3H2191.70V639.5H2190.48ZM2194.05 405.3H2195.28V639.5H2194.05ZM2197.63 405.3H2198.85V639.5H2197.63ZM2201.20 405.3H2202.42V639.5H2201.20ZM2204.77 405.3H2205.99V639.5H2204.77ZM2208.34 405.3H2209.56V639.5H2208.34ZM2211.91 405.3H2213.13V639.5H2211.91ZM2215.48 405.3H2216.70V639.5H2215.48ZM2219.05 405.3H2220.27V639.5H2219.05ZM2222.62 405.3H2223.84V639.5H2222.62ZM2226.19 405.3H2227.41V639.5H2226.19ZM2229.76 405.3H2230.98V639.5H2229.76ZM2233.33 405.3H2234.55V639.5H2233.33ZM2236.90 405.3H2238.12V639.5H2236.90ZM2240.47 405.3H2241.69V639.5H2240.47ZM2244.04 405.3H2245.26V639.5H2244.04ZM2247.61 405.3H2248.83V639.5H2247.61ZM2251.18 405.3H2252.40V639.5H2251.18ZM2254.75 405.3H2255.97V639.5H2254.75ZM2258.32 405.3H2259.54V639.5H2258.32ZM2261.89 405.3H2263.11V639.5H2261.89ZM2265.46 405.3H2266.68V639.5H2265.46ZM2269.03 405.3H2270.25V639.5H2269.03ZM2272.60 405.3H2273.82V639.5H2272.60ZM2276.17 405.3H2277.39V639.5H2276.17ZM2279.74 405.3H2280.96V639.5H2279.74ZM2283.31 405.3H2284.53V639.5H2283.31ZM2286.88 405.3H2288.10V639.5H2286.88ZM2290.45 405.3H2291.67V639.5H2290.45ZM2294.02 405.3H2295.25V639.5H2294.02ZM2297.59 405.3H2300.50V639.5H2297.59ZM2302.84 405.3H2304.20V639.5H2302.84ZM2306.54 405.3H2307.77V639.5H2306.54ZM2310.12 405.3H2311.34V639.5H2310.12ZM2313.69 405.3H2314.91V639.5H2313.69ZM2317.26 405.3H2318.48V639.5H2317.26ZM2320.83 405.3H2322.05V639.5H2320.83ZM2324.40 405.3H2325.62V639.5H2324.40ZM2327.97 405.3H2329.19V639.5H2327.97ZM2331.54 405.3H2332.76V639.5H2331.54ZM2335.11 405.3H2336.33V639.5H2335.11ZM2338.68 405.3H2339.90V639.5H2338.68ZM2342.25 405.3H2343.47V639.5H2342.25ZM2345.82 405.3H2347.04V639.5H2345.82ZM2349.39 405.3H2350.61V639.5H2349.39ZM2352.96 431.5H2354.18V639.5H2352.96ZM2356.53 473.8H2357.75V639.5H2356.53ZM2360.10 499.0H2361.32V639.5H2360.10ZM2363.67 501.0H2364.89V639.5H2363.67ZM2367.24 501.0H2368.46V639.5H2367.24ZM2370.81 501.0H2372.03V639.5H2370.81ZM2374.38 501.0H2375.60V639.5H2374.38ZM2377.95 501.0H2379.17V639.5H2377.95ZM2381.52 501.0H2382.74V639.5H2381.52ZM2385.09 501.0H2386.31V639.5H2385.09ZM2388.66 501.0H2389.88V639.5H2388.66ZM2392.23 501.0H2393.45V639.5H2392.23ZM2395.80 501.0H2397.02V639.5H2395.80ZM2399.37 507.0H2400.59V639.5H2399.37ZM2402.94 520.5H2404.16V639.5H2402.94ZM2406.51 521.0H2407.74V639.5H2406.51Z" fill="#1212ff"/>
<path d="M1343.8 404.0H1346.5V639.5H1343.8ZM2406.7 402.5H2410.1V639.5H2406.7Z" fill="#0000ff"/>
<path d="M1344.4 521.6L1343.9 521.6H1345.7L1345.7 521.0H1347.5L1347.4 521.6H1349.2L1349.2 521.0H1351.0L1351.0 521.6H1352.8L1352.8 521.0H1354.6L1354.5 521.0H1356.3L1356.3 521.6H1358.1L1358.1 521.6H1359.9L1359.9 521.0H1361.7L1361.6 521.6H1363.4L1363.4 521.6H1365.2L1365.2 521.6H1367.0L1367.0 522.4H1368.8L1368.7 521.0H1370.5L1370.5 521.0H1372.3L1372.3 521.0H1374.1L1374.0 521.6H1375.8L1375.8 521.6H1377.6L1377.6 521.0H1379.4L1379.4 521.0H1381.2L1381.1 522.4H1382.9L1382.9 521.0H1384.7L1384.7 521.0H1386.5L1386.5 522.4H1388.3L1388.2 521.6H1390.0L1390.0 521.6H1391.8L1391.8 522.4H1393.6L1393.5 521.6H1395.3L1395.3 470.0H1397.1L1397.1 470.0H1398.9L1398.9 420.0H1400.7L1400.6 420.0H1402.4L1402.4 405.3H1404.2L1404.2 405.3H1406.0L1406.0 405.3H1407.8L1407.7 405.3H1409.5L1409.5 405.3H1411.3L1411.3 405.3H1413.1L1413.1 405.3H1414.9L1414.8 405.3H1416.6L1416.6 405.3H1418.4L1418.4 405.3H1420.2L1420.1 405.3H1421.9L1421.9 405.3H1423.7L1423.7 405.3H1425.5L1425.5 405.3H1427.3L1427.2 405.3H1429.0L1429.0 405.3H1430.8L1430.8 405.3H1432.6L1432.6 405.3H1434.4L1434.3 405.3H1436.1L1436.1 405.3H1437.9L1437.9 405.3H1439.7L1439.7 405.3H1441.5L1441.4 405.3H1443.2L1443.2 405.3H1445.0L1445.0 405.3H1446.8L1446.7 405.3H1448.5L1448.5 405.3H1450.3L1450.3 405.3H1452.1L1452.1 405.3H1453.9L1453.8 405.3H1455.6L1455.6 405.3H1457.4L1457.4 405.3H1459.2L1459.2 405.3H1461.0L1460.9 405.3H1462.7L1462.7 405.3H1464.5L1464.5 405.3H1466.3L1466.2 405.3H1468.0L1468.0 405.3H1469.8L1469.8 405.3H1471.6L1471.6 405.3H1473.4L1473.3 405.3H1475.1L1475.1 405.3H1476.9L1476.9 405.3H1478.7L1478.7 405.3H1480.5L1480.4 405.3H1482.2L1482.2 405.3H1484.0L1484.0 405.3H1485.8L1485.8 405.3H1487.6L1487.5 405.3H1489.3L1489.3 405.3H1491.1L1491.1 405.3H1492.9L1492.8 405.3H1494.6L1494.6 405.3H1496.4L1496.4 405.3H1498.2L1498.2 405.3H1500.0L1499.9 405.3H1501.7L1501.7 405.3H1503.5L1503.5 405.3H1505.3L1505.3 405.3H1507.1L1507.0 405.3H1508.8L1508.8 405.3H1510.6L1510.6 405.3H1512.4L1512.4 405.3H1514.2L1514.1 405.3H1515.9L1515.9 405.3H1517.7L1517.7 405.3H1519.5L1519.4 405.3H1521.2L1521.2 405.3H1523.0L1523.0 405.3H1524.8L1524.8 405.3H1526.6L1526.5 405.3H1528.3L1528.3 405.3H1530.1L1530.1 405.3H1531.9L1531.9 405.3H1533.7L1533.6 405.3H1535.4L1535.4 405.3H1537.2L1537.2 405.3H1539.0L1538.9 405.3H1540.7L1540.7 405.3H1542.5L1542.5 405.3H1544.3L1544.3 405.3H1546.1L1546.0 405.3H1547.8L1547.8 405.3H1549.6L1549.6 405.3H1551.4L1551.4 405.3H1553.2L1553.1 405.3H1554.9L1554.9 405.3H1556.7L1556.7 405.3H1558.5L1558.5 405.3H1560.3L1560.2 405.3H1562.0L1562.0 405.3H1563.8L1563.8 405.3H1565.6L1565.5 405.3H1567.3L1567.3 405.3H1569.1L1569.1 405.3H1570.9L1570.9 405.3H1572.7L1572.6 405.3H1574.4L1574.4 405.3H1576.2L1576.2 405.3H1578.0L1578.0 405.3H1579.8L1579.7 405.3H1581.5L1581.5 405.3H1583.3L1583.3 405.3H1585.1L1585.1 405.3H1586.9L1586.8 405.3H1588.6L1588.6 405.3H1590.4L1590.4 405.3H1592.2L1592.1 405.3H1593.9L1593.9 405.3H1595.7L1595.7 405.3H1597.5L1597.5 405.3H1599.3L1599.2 405.3H1601.0L1601.0 405.3H1602.8L1602.8 405.3H1604.6L1604.6 405.3H1606.4L1606.3 405.3H1608.1L1608.1 405.3H1609.9L1609.9 405.3H1611.7L1611.6 405.3H1613.4L1613.4 405.3H1615.2L1615.2 405.3H1617.0L1617.0 405.3H1618.8L1618.7 405.3H1620.5L1620.5 405.3H1622.3L1622.3 405.3H1624.1L1624.1 405.3H1625.9L1625.8 405.3H1627.6L1627.6 405.3H1629.4L1629.4 405.3H1631.2L1631.2 405.3H1633.0L1632.9 405.3H1634.7L1634.7 405.3H1636.5L1636.5 405.3H1638.3L1638.2 405.3H1640.0L1640.0 405.3H1641.8L1641.8 405.3H1643.6L1643.6 405.3H1645.4L1645.3 405.3H1647.1L1647.1 405.3H1648.9L1648.9 405.3H1650.7L1650.7 405.3H1652.5L1652.4 405.3H1654.2L1654.2 405.3H1656.0L1656.0 405.3H1657.8L1657.8 405.3H1659.6L1659.5 405.3H1661.3L1661.3 405.3H1663.1L1663.1 405.3H1664.9L1664.8 405.3H1666.6L1666.6 405.3H1668.4L1668.4 405.3H1670.2L1670.2 405.3H1672.0L1671.9 405.3H1673.7L1673.7 405.3H1675.5L1675.5 405.3H1677.3L1677.3 405.3H1679.1L1679.0 405.3H1680.8L1680.8 405.3H1682.6L1682.6 405.3H1684.4L1684.3 405.3H1686.1L1686.1 405.3H1687.9L1687.9 405.3H1689.7L1689.7 405.3H1691.5L1691.4 405.3H1693.2L1693.2 405.3H1695.0L1695.0 405.3H1696.8L1696.8 405.3H1698.6L1698.5 405.3H1700.3L1700.3 405.3H1702.1L1702.1 405.3H1703.9L1703.9 405.3H1705.7L1705.6 405.3H1707.4L1707.4 405.3H1709.2L1709.2 405.3H1711.0L1710.9 405.3H1712.7L1712.7 405.3H1714.5L1714.5 405.3H1716.3L1716.3 405.3H1718.1L1718.0 405.3H1719.8L1719.8 405.3H1721.6L1721.6 405.3H1723.4L1723.4 405.3H1725.2L1725.1 405.3H1726.9L1726.9 405.3H1728.7L1728.7 405.3H1730.5L1730.5 405.3H1732.3L1732.2 405.3H1734.0L1734.0 405.3H1735.8L1735.8 405.3H1737.6L1737.5 405.3H1739.3L1739.3 405.3H1741.1L1741.1 405.3H1742.9L1742.9 405.3H1744.7L1744.6 405.3H1746.4L1746.4 405.3H1748.2L1748.2 405.3H1750.0L1750.0 405.3H1751.8L1751.7 405.3H1753.5L1753.5 405.3H1755.3L1755.3 405.3H1757.1L1757.0 405.3H1758.8L1758.8 405.3H1760.6L1760.6 405.3H1762.4L1762.4 405.3H1764.2L1764.1 405.3H1765.9L1765.9 405.3H1767.7L1767.7 405.3H1769.5L1769.5 405.3H1771.3L1771.2 405.3H1773.0L1773.0 405.3H1774.8L1774.8 405.3H1776.6L1776.6 405.3H1778.4L1778.3 405.3H1780.1L1780.1 405.3H1781.9L1781.9 405.3H1783.7L1783.6 405.3H1785.4L1785.4 405.3H1787.2L1787.2 405.3H1789.0L1789.0 405.3H1790.8L1790.7 405.3H1792.5L1792.5 405.3H1794.3L1794.3 405.3H1796.1L1796.1 405.3H1797.9L1797.8 405.3H1799.6L1799.6 405.3H1801.4L1801.4 405.3H1803.2L1803.2 405.3H1805.0L1804.9 405.3H1806.7L1806.7 405.3H1808.5L1808.5 405.3H1810.3L1810.2 405.3H1812.0L1812.0 405.3H1813.8L1813.8 405.3H1815.6L1815.6 405.3H1817.4L1817.3 405.3H1819.1L1819.1 405.3H1820.9L1820.9 405.3H1822.7L1822.7 405.3H1824.5L1824.4 405.3H1826.2L1826.2 405.3H1828.0L1828.0 405.3H1829.8L1829.7 405.3H1831.5L1831.5 405.3H1833.3L1833.3 405.3H1835.1L1835.1 405.3H1836.9L1836.8 405.3H1838.6L1838.6 405.3H1840.4L1840.4 405.3H1842.2L1842.2 405.3H1844.0L1843.9 405.3H1845.7L1845.7 405.3H1847.5L1847.5 405.3H1849.3L1849.3 405.3H1851.1L1851.0 405.3H1852.8L1852.8 405.3H1854.6L1854.6 405.3H1856.4L1856.3 405.3H1858.1L1858.1 405.3H1859.9L1859.9 405.3H1861.7L1861.7 405.3H1863.5L1863.4 405.3H1865.2L1865.2 405.3H1867.0L1867.0 405.3H1868.8L1868.8 405.3H1870.6L1870.5 405.3H1872.3L1872.3 405.3H1874.1L1874.1 405.3H1875.9L1875.8 405.3H1877.7L1877.6 405.3H1879.4L1879.4 405.3H1881.2L1881.2 405.3H1883.0L1882.9 405.3H1884.7L1884.7 405.3H1886.5L1886.5 405.3H1888.3L1888.3 405.3H1890.1L1890.0 405.3H1891.8L1891.8 405.3H1893.6L1893.6 405.3H1895.4L1895.4 405.3H1897.2L1897.1 405.3H1898.9L1898.9 405.3H1900.7L1900.7 405.3H1902.5L1902.4 405.3H1904.2L1904.2 405.3H1906.0L1906.0 405.3H1907.8L1907.8 405.3H1909.6L1909.5 405.3H1911.3L1911.3 405.3H1913.1L1913.1 405.3H1914.9L1914.9 405.3H1916.7L1916.6 405.3H1918.4L1918.4 405.3H1920.2L1920.2 405.3H1922.0L1922.0 405.3H1923.8L1923.7 405.3H1925.5L1925.5 405.3H1927.3L1927.3 405.3H1929.1L1929.0 405.3H1930.8L1930.8 405.3H1932.6L1932.6 405.3H1934.4L1934.4 405.3H1936.2L1936.1 405.3H1937.9L1937.9 405.3H1939.7L1939.7 405.3H1941.5L1941.5 405.3H1943.3L1943.2 405.3H1945.0L1945.0 405.3H1946.8L1946.8 405.3H1948.6L1948.5 405.3H1950.3L1950.3 405.3H1952.1L1952.1 405.3H1953.9L1953.9 405.3H1955.7L1955.6 405.3H1957.4L1957.4 405.3H1959.2L1959.2 405.3H1961.0L1961.0 405.3H1962.8L1962.7 405.3H1964.5L1964.5 405.3H1966.3L1966.3 405.3H1968.1L1968.1 405.3H1969.9L1969.8 405.3H1971.6L1971.6 405.3H1973.4L1973.4 405.3H1975.2L1975.1 405.3H1976.9L1976.9 405.3H1978.7L1978.7 405.3H1980.5L1980.5 405.3H1982.3L1982.2 405.3H1984.0L1984.0 405.3H1985.8L1985.8 405.3H1987.6L1987.6 405.3H1989.4L1989.3 405.3H1991.1L1991.1 405.3H1992.9L1992.9 405.3H1994.7L1994.7 405.3H1996.5L1996.4 405.3H1998.2L1998.2 405.3H2000.0L2000.0 405.3H2001.8L2001.7 405.3H2003.5L2003.5 405.3H2005.3L2005.3 405.3H2007.1L2007.1 405.3H2008.9L2008.8 405.3H2010.6L2010.6 405.3H2012.4L2012.4 405.3H2014.2L2014.2 405.3H2016.0L2015.9 405.3H2017.7L2017.7 405.3H2019.5L2019.5 405.3H2021.3L2021.2 405.3H2023.0L2023.0 405.3H2024.8L2024.8 405.3H2026.6L2026.6 405.3H2028.4L2028.3 405.3H2030.1L2030.1 405.3H2031.9L2031.9 405.3H2033.7L2033.7 405.3H2035.5L2035.4 405.3H2037.2L2037.2 405.3H2039.0L2039.0 405.3H2040.8L2040.8 405.3H2042.6L2042.5 405.3H2044.3L2044.3 405.3H2046.1L2046.1 405.3H2047.9L2047.8 405.3H2049.6L2049.6 405.3H2051.4L2051.4 405.3H2053.2L2053.2 405.3H2055.0L2054.9 405.3H2056.7L2056.7 405.3H2058.5L2058.5 405.3H2060.3L2060.3 405.3H2062.1L2062.0 405.3H2063.8L2063.8 405.3H2065.6L2065.6 405.3H2067.4L2067.4 405.3H2069.2L2069.1 405.3H2070.9L2070.9 405.3H2072.7L2072.7 405.3H2074.5L2074.4 405.3H2076.2L2076.2 405.3H2078.0L2078.0 405.3H2079.8L2079.8 405.3H2081.6L2081.5 405.3H2083.3L2083.3 405.3H2085.1L2085.1 405.3H2086.9L2086.9 405.3H2088.7L2088.6 405.3H2090.4L2090.4 405.3H2092.2L2092.2 405.3H2094.0L2093.9 405.3H2095.7L2095.7 405.3H2097.5L2097.5 405.3H2099.3L2099.3 405.3H2101.1L2101.0 405.3H2102.8L2102.8 405.3H2104.6L2104.6 405.3H2106.4L2106.4 405.3H2108.2L2108.1 405.3H2109.9L2109.9 405.3H2111.7L2111.7 405.3H2113.5L2113.5 405.3H2115.3L2115.2 405.3H2117.0L2117.0 405.3H2118.8L2118.8 405.3H2120.6L2120.5 405.3H2122.3L2122.3 405.3H2124.1L2124.1 405.3H2125.9L2125.9 405.3H2127.7L2127.6 405.3H2129.4L2129.4 405.3H2131.2L2131.2 405.3H2133.0L2133.0 405.3H2134.8L2134.7 405.3H2136.5L2136.5 405.3H2138.3L2138.3 405.3H2140.1L2140.1 405.3H2141.9L2141.8 405.3H2143.6L2143.6 405.3H2145.4L2145.4 405.3H2147.2L2147.1 405.3H2148.9L2148.9 405.3H2150.7L2150.7 405.3H2152.5L2152.5 405.3H2154.3L2154.2 405.3H2156.0L2156.0 405.3H2157.8L2157.8 405.3H2159.6L2159.6 405.3H2161.4L2161.3 405.3H2163.1L2163.1 405.3H2164.9L2164.9 405.3H2166.7L2166.6 405.3H2168.4L2168.4 405.3H2170.2L2170.2 405.3H2172.0L2172.0 405.3H2173.8L2173.7 405.3H2175.5L2175.5 405.3H2177.3L2177.3 405.3H2179.1L2179.1 405.3H2180.9L2180.8 405.3H2182.6L2182.6 405.3H2184.4L2184.4 405.3H2186.2L2186.2 405.3H2188.0L2187.9 405.3H2189.7L2189.7 405.3H2191.5L2191.5 405.3H2193.3L2193.2 405.3H2195.0L2195.0 405.3H2196.8L2196.8 405.3H2198.6L2198.6 405.3H2200.4L2200.3 405.3H2202.1L2202.1 405.3H2203.9L2203.9 405.3H2205.7L2205.7 405.3H2207.5L2207.4 405.3H2209.2L2209.2 405.3H2211.0L2211.0 405.3H2212.8L2212.8 405.3H2214.6L2214.5 405.3H2216.3L2216.3 405.3H2218.1L2218.1 405.3H2219.9L2219.8 405.3H2221.6L2221.6 405.3H2223.4L2223.4 405.3H2225.2L2225.2 405.3H2227.0L2226.9 405.3H2228.7L2228.7 405.3H2230.5L2230.5 405.3H2232.3L2232.3 405.3H2234.1L2234.0 405.3H2235.8L2235.8 405.3H2237.6L2237.6 405.3H2239.4L2239.3 405.3H2241.1L2241.1 405.3H2242.9L2242.9 405.3H2244.7L2244.7 405.3H2246.5L2246.4 405.3H2248.2L2248.2 405.3H2250.0L2250.0 405.3H2251.8L2251.8 405.3H2253.6L2253.5 405.3H2255.3L2255.3 405.3H2257.1L2257.1 405.3H2258.9L2258.9 405.3H2260.7L2260.6 405.3H2262.4L2262.4 405.3H2264.2L2264.2 405.3H2266.0L2265.9 405.3H2267.7L2267.7 405.3H2269.5L2269.5 405.3H2271.3L2271.3 405.3H2273.1L2273.0 405.3H2274.8L2274.8 405.3H2276.6L2276.6 405.3H2278.4L2278.4 405.3H2280.2L2280.1 405.3H2281.9L2281.9 405.3H2283.7L2283.7 405.3H2285.5L2285.5 405.3H2287.3L2287.2 405.3H2289.0L2289.0 405.3H2290.8L2290.8 405.3H2292.6L2292.5 405.3H2294.3L2294.3 405.3H2296.1L2296.1 405.3H2297.9L2297.9 405.3H2299.7L2299.6 405.3H2301.4L2301.4 405.3H2303.2L2303.2 405.3H2305.0L2305.0 405.3H2306.8L2306.7 405.3H2308.5L2308.5 405.3H2310.3L2310.3 405.3H2312.1L2312.0 405.3H2313.8L2313.8 405.3H2315.6L2315.6 405.3H2317.4L2317.4 405.3H2319.2L2319.1 405.3H2320.9L2320.9 405.3H2322.7L2322.7 405.3H2324.5L2324.5 405.3H2326.3L2326.2 405.3H2328.0L2328.0 405.3H2329.8L2329.8 405.3H2331.6L2331.6 405.3H2333.4L2333.3 405.3H2335.1L2335.1 405.3H2336.9L2336.9 405.3H2338.7L2338.6 405.3H2340.4L2340.4 405.3H2342.2L2342.2 405.3H2344.0L2344.0 405.3H2345.8L2345.7 405.3H2347.5L2347.5 405.3H2349.3L2349.3 405.3H2351.1L2351.1 405.3H2352.9L2352.8 431.5H2354.6L2354.6 473.8H2356.4L2356.4 473.8H2358.2L2358.2 499.0H2360.0L2359.9 499.0H2361.7L2361.7 501.0H2363.5L2363.5 501.0H2365.3L2365.2 501.0H2367.0L2367.0 501.0H2368.8L2368.8 501.0H2370.6L2370.6 501.0H2372.4L2372.3 501.0H2374.1L2374.1 501.0H2375.9L2375.9 501.0H2377.7L2377.7 501.0H2379.5L2379.4 501.0H2381.2L2381.2 501.0H2383.0L2383.0 501.0H2384.8L2384.7 501.0H2386.5L2386.5 501.0H2388.3L2388.3 501.0H2390.1L2390.1 501.0H2391.9L2391.8 501.0H2393.6L2393.6 501.0H2395.4L2395.4 501.0H2397.2L2397.2 507.0H2399.0L2398.9 507.0H2400.7L2400.7 520.5H2402.5L2402.5 520.5H2404.3L2404.3 521.0H2406.1L2406.0 521.0H2407.8L2407.8 521.0H2409.6" stroke="#1010ff" stroke-width="1.9" fill="none" stroke-linejoin="round"/>
<path d="M1396 420V639.5" stroke="#0000ff" stroke-width="2.6" fill="none"/>
<path d="M1557.9 407V639.5M1770.7 407V639.5M1983.3 407V639.5M2196.2 407V639.5" stroke="#2424d6" stroke-width="2.6" fill="none"/>
<path d="M1405.3 156.0l7 9.6l-7 9.6l-7-9.6z" fill="#fff" stroke="#000" stroke-width="2.7" stroke-linejoin="miter"/>
<rect x="1398.7" y="182.6" width="14" height="19.5" fill="#fff"/>
<text transform="translate(1399.95 199.50) scale(0.9277 1)" font-size="20.50" fill="#222">1</text>
<path d="M1875.7 154.2l7 9.6l-7 9.6l-7-9.6z" fill="#fff" stroke="#000" stroke-width="2.7" stroke-linejoin="miter"/>
<rect x="1869.1" y="182.2" width="14" height="19.5" fill="#fff"/>
<text transform="translate(1871.14 199.10) scale(0.8437 1)" font-size="20.50" fill="#222">3</text>
<path d="M2344.5 152.0l7 9.6l-7 9.6l-7-9.6z" fill="#fff" stroke="#000" stroke-width="2.7" stroke-linejoin="miter"/>
<rect x="2337.9" y="177.6" width="14" height="19.5" fill="#fff"/>
<text transform="translate(2339.69 194.50) scale(0.8780 1)" font-size="20.50" fill="#222">2</text>
<g stroke="#000" fill="none">
<path d="M1403.2 217.8V298.6M1873.8 218.2V298.6M2344.2 217.4V298.6" stroke-width="3.6" stroke-linecap="round"/>
<path d="M1420 261.9H1856M1891 261.9H2326" stroke-width="3.3"/>
<path d="M1403.2 325V417M2344.5 325V417" stroke-width="3.4" stroke-dasharray="3.4 3.4"/>
</g>
<g fill="#000">
<path d="M1405.4 261.9L1423.4 253.4L1419.4 261.9L1423.4 270.4Z"/>
<path d="M1871.9 261.9L1853.6 253.3L1857.6 261.9L1853.6 270.5Z"/>
<path d="M1875.6 261.9L1893.4 253.3L1889.4 261.9L1893.4 270.5Z"/>
<path d="M2341.8 261.9L2323.8 253.4L2327.8 261.9L2323.8 270.4Z"/>
<path d="M1403.2 309.8L1413.2 327.4L1403.2 324.6L1394.0 327.4Z"/>
<path d="M2344.5 309.4L2354.4 327.4L2344.5 324.6L2335.3 327.4Z"/>
</g>
<text transform="translate(1573.42 246.60) scale(0.9932 1)" font-size="30.40" font-weight="bold">-375 MHz</text>
<text transform="translate(2039.74 246.60) scale(0.9889 1)" font-size="30.40" font-weight="bold">+375 MHz</text>
<text transform="translate(1418.69 392.80) scale(0.9450 1)" font-size="30.40" font-weight="bold">10.1 GHz</text>
<text transform="translate(2189.37 393.60) scale(0.9571 1)" font-size="30.40" font-weight="bold">10.85 GHz</text>
<path d="M1267 856.4V719.5H2408.2V856.4" fill="none" stroke="#a3a3a3" stroke-width="3.7"/>
<text transform="translate(1292.77 746.90) scale(0.9026 1)" font-size="26.00" fill="#2a2a2a">Marker</text>
<text transform="translate(1412.77 746.90) scale(0.8992 1)" font-size="26.00" fill="#2a2a2a">Trace</text>
<text transform="translate(1543.81 746.90) scale(0.8437 1)" font-size="26.00" fill="#2a2a2a">Type</text>
<text transform="translate(1745.31 746.90) scale(0.6662 1)" font-size="26.00" fill="#2a2a2a">X</text>
<text transform="translate(1767.46 746.90) scale(0.8374 1)" font-size="26.00" fill="#2a2a2a">Axis</text>
<text transform="translate(2027.06 746.60) scale(0.8172 1)" font-size="26.00" fill="#2a2a2a">Amplitude</text>
<text transform="translate(1324.14 777.00) scale(0.8385 1)" font-size="26.00" fill="#2a2a2a">1</text>
<text transform="translate(1423.38 777.00) scale(1.1278 1)" font-size="26.00" fill="#2a2a2a">(1)</text>
<text transform="translate(1546.73 777.00) scale(0.9222 1)" font-size="26.00" fill="#2a2a2a">Freq</text>
<text transform="translate(1697.25 777.00) scale(0.8834 1)" font-size="26.00" fill="#2a2a2a">10.098</text>
<text transform="translate(1776.95 777.00) scale(0.7919 1)" font-size="26.00" fill="#2a2a2a">6</text>
<text transform="translate(1797.55 777.00) scale(0.7227 1)" font-size="26.00" fill="#2a2a2a">GHz</text>
<text transform="translate(2031.23 777.00) scale(0.8738 1)" font-size="26.00" fill="#2a2a2a">3.65</text>
<text transform="translate(2084.74 777.00) scale(0.6929 1)" font-size="26.00" fill="#2a2a2a">dBm</text>
<text transform="translate(1324.76 806.85) scale(0.7936 1)" font-size="26.00" fill="#2a2a2a">2</text>
<text transform="translate(1423.38 806.85) scale(1.1278 1)" font-size="26.00" fill="#2a2a2a">(1)</text>
<text transform="translate(1546.73 806.85) scale(0.9222 1)" font-size="26.00" fill="#2a2a2a">Freq</text>
<text transform="translate(1697.25 806.85) scale(0.8834 1)" font-size="26.00" fill="#2a2a2a">10.848</text>
<text transform="translate(1776.95 806.85) scale(0.7919 1)" font-size="26.00" fill="#2a2a2a">6</text>
<text transform="translate(1797.55 806.85) scale(0.7227 1)" font-size="26.00" fill="#2a2a2a">GHz</text>
<text transform="translate(2031.58 806.85) scale(0.8693 1)" font-size="26.00" fill="#2a2a2a">4.39</text>
<text transform="translate(2084.74 806.85) scale(0.6929 1)" font-size="26.00" fill="#2a2a2a">dBm</text>
<text transform="translate(1325.04 836.70) scale(0.7625 1)" font-size="26.00" fill="#2a2a2a">3</text>
<text transform="translate(1423.38 836.70) scale(1.1278 1)" font-size="26.00" fill="#2a2a2a">(1)</text>
<text transform="translate(1546.73 836.70) scale(0.9222 1)" font-size="26.00" fill="#2a2a2a">Freq</text>
<text transform="translate(1697.25 836.70) scale(0.8829 1)" font-size="26.00" fill="#2a2a2a">10.475</text>
<text transform="translate(1777.22 836.70) scale(0.7644 1)" font-size="26.00" fill="#2a2a2a">0</text>
<text transform="translate(1797.55 836.70) scale(0.7227 1)" font-size="26.00" fill="#2a2a2a">GHz</text>
<text transform="translate(2031.23 836.70) scale(0.8738 1)" font-size="26.00" fill="#2a2a2a">3.75</text>
<text transform="translate(2084.74 836.70) scale(0.6929 1)" font-size="26.00" fill="#2a2a2a">dBm</text>
<text transform="translate(1801.52 928.60) scale(0.9255 1)" font-size="61.00" font-family='"Liberation Serif", serif'>(</text>
<text transform="translate(1821.18 928.60) scale(1.0626 1)" font-size="61.00" font-weight="bold" font-family='"Liberation Serif", serif'>b</text>
<text transform="translate(1857.88 928.60) scale(0.9255 1)" font-size="61.00" font-family='"Liberation Serif", serif'>)</text>
</g>
</svg>
</body>
</html>
